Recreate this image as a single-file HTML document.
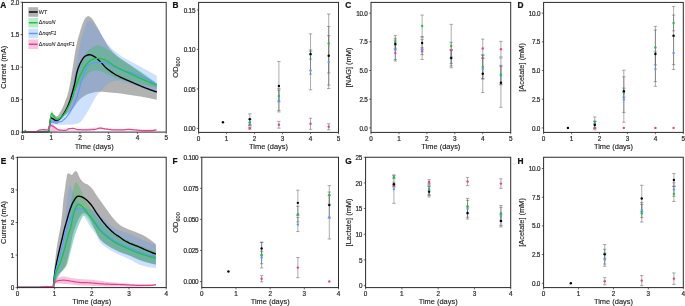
<!DOCTYPE html>
<html><head><meta charset="utf-8"><title>Figure</title>
<style>
html,body{margin:0;padding:0;background:#fff;}
body{width:685px;height:306px;overflow:hidden;}
svg{display:block;font-family:'Liberation Sans', Arial, Helvetica, sans-serif;will-change:transform;}
</style></head><body>
<svg width="685" height="306" viewBox="0 0 685 306">
<rect width="685" height="306" fill="#ffffff"/>
<g>
<path d="M49.5 131.5 L49.58 130.5 L49.67 129.5 L49.77 128.49 L49.87 127.49 L49.97 126.5 L50.08 125.5 L50.2 124.5 L50.32 123.5 L50.44 122.5 L50.56 121.49 L50.67 120.41 L50.77 119.29 L50.9 118.21 L51.05 117.21 L51.26 116.37 L51.61 115.71 L52.47 115.08 L53.54 114.66 L54.45 114.72 L55.34 115.39 L56.19 116.14 L56.95 116.39 L57.65 116.04 L58.31 115.33 L58.94 114.38 L59.53 113.33 L60.09 112.34 L60.62 111.48 L61.12 110.62 L61.6 109.74 L62.06 108.84 L62.51 107.93 L62.93 107.01 L63.34 106.09 L63.74 105.17 L64.12 104.24 L64.47 103.3 L64.82 102.35 L65.16 101.41 L65.5 100.46 L65.86 99.52 L66.22 98.58 L66.59 97.64 L66.94 96.7 L67.27 95.75 L67.56 94.79 L67.83 93.83 L68.08 92.86 L68.33 91.88 L68.56 90.91 L68.78 89.92 L68.99 88.94 L69.2 87.95 L69.4 86.97 L69.6 85.98 L69.8 85 L69.99 84.01 L70.18 83.03 L70.36 82.04 L70.54 81.05 L70.71 80.06 L70.88 79.07 L71.05 78.08 L71.21 77.09 L71.37 76.1 L71.53 75.11 L71.69 74.11 L71.85 73.12 L72 72.13 L72.15 71.13 L72.3 70.14 L72.45 69.14 L72.6 68.15 L72.75 67.15 L72.9 66.16 L73.05 65.16 L73.2 64.17 L73.35 63.17 L73.5 62.18 L73.65 61.18 L73.81 60.19 L73.96 59.2 L74.12 58.2 L74.28 57.21 L74.44 56.22 L74.6 55.23 L74.77 54.24 L74.94 53.25 L75.11 52.26 L75.29 51.27 L75.47 50.28 L75.65 49.29 L75.84 48.31 L76.03 47.32 L76.23 46.34 L76.44 45.35 L76.64 44.37 L76.86 43.38 L77.08 42.4 L77.31 41.42 L77.54 40.45 L77.78 39.47 L78.03 38.5 L78.29 37.53 L78.56 36.56 L78.84 35.6 L79.13 34.63 L79.42 33.67 L79.72 32.71 L80.02 31.75 L80.32 30.79 L80.62 29.83 L80.91 28.87 L81.2 27.9 L81.5 26.93 L81.8 25.97 L82.11 25.01 L82.45 24.07 L82.8 23.13 L83.18 22.21 L83.59 21.27 L84.02 20.33 L84.51 19.42 L85.04 18.58 L85.64 17.84 L86.39 17.07 L87.25 16.38 L88.12 16.01 L88.99 16.17 L89.9 16.71 L90.75 17.39 L91.48 18.05 L92.15 18.81 L92.77 19.62 L93.35 20.43 L93.9 21.27 L94.43 22.12 L94.94 22.99 L95.45 23.87 L95.95 24.74 L96.45 25.61 L96.95 26.48 L97.45 27.36 L97.93 28.24 L98.42 29.12 L98.9 30 L99.38 30.88 L99.86 31.77 L100.34 32.65 L100.82 33.53 L101.3 34.42 L101.77 35.31 L102.24 36.19 L102.72 37.08 L103.2 37.96 L103.68 38.84 L104.18 39.71 L104.67 40.59 L105.17 41.47 L105.67 42.35 L106.17 43.22 L106.7 44.08 L107.23 44.93 L107.79 45.75 L108.38 46.56 L108.98 47.36 L109.6 48.15 L110.24 48.94 L110.89 49.71 L111.55 50.48 L112.23 51.24 L112.92 51.98 L113.62 52.71 L114.33 53.42 L115.05 54.12 L115.78 54.8 L116.51 55.46 L117.26 56.1 L118.03 56.73 L118.81 57.35 L119.6 57.96 L120.41 58.55 L121.22 59.14 L122.05 59.72 L122.88 60.29 L123.71 60.86 L124.56 61.42 L125.4 61.98 L126.25 62.54 L127.1 63.09 L127.94 63.65 L128.79 64.21 L129.63 64.77 L130.46 65.34 L131.29 65.91 L132.11 66.49 L132.94 67.07 L133.76 67.65 L134.58 68.23 L135.4 68.8 L136.23 69.38 L137.05 69.95 L137.88 70.53 L138.7 71.1 L139.52 71.68 L140.35 72.25 L141.17 72.83 L142 73.4 L142.82 73.98 L143.65 74.55 L144.47 75.13 L145.29 75.71 L146.11 76.28 L146.94 76.86 L147.76 77.44 L148.58 78.01 L149.4 78.59 L150.23 79.17 L151.05 79.75 L151.87 80.33 L152.69 80.91 L153.51 81.48 L154.34 82.06 L155.16 82.64 L155.98 83.22 L156.8 83.8 L156.8 99.8 L155.81 99.57 L154.82 99.35 L153.83 99.13 L152.84 98.92 L151.85 98.7 L150.86 98.49 L149.87 98.29 L148.88 98.09 L147.89 97.89 L146.89 97.7 L145.9 97.51 L144.9 97.32 L143.91 97.14 L142.91 96.96 L141.92 96.79 L140.92 96.62 L139.92 96.45 L138.92 96.29 L137.92 96.14 L136.92 95.99 L135.92 95.84 L134.91 95.69 L133.91 95.55 L132.91 95.4 L131.91 95.25 L130.91 95.11 L129.91 94.96 L128.91 94.8 L127.9 94.64 L126.9 94.48 L125.9 94.31 L124.9 94.15 L123.9 93.99 L122.9 93.83 L121.9 93.68 L120.9 93.54 L119.9 93.4 L118.89 93.28 L117.89 93.17 L116.88 93.06 L115.88 92.97 L114.87 92.88 L113.86 92.79 L112.85 92.71 L111.84 92.63 L110.83 92.55 L109.82 92.47 L108.81 92.39 L107.8 92.31 L106.79 92.22 L105.78 92.11 L104.77 92.01 L103.76 91.9 L102.75 91.81 L101.74 91.75 L100.74 91.71 L99.73 91.71 L98.72 91.75 L97.7 91.83 L96.68 91.96 L95.66 92.11 L94.65 92.29 L93.64 92.5 L92.64 92.72 L91.66 92.96 L90.69 93.21 L89.74 93.46 L88.81 93.74 L87.88 94.1 L86.95 94.51 L86.03 94.98 L85.12 95.49 L84.23 96.05 L83.36 96.63 L82.51 97.23 L81.7 97.84 L80.92 98.46 L80.17 99.08 L79.47 99.74 L78.79 100.46 L78.14 101.22 L77.52 102.01 L76.91 102.83 L76.31 103.67 L75.72 104.52 L75.12 105.38 L74.53 106.23 L73.93 107.07 L73.31 107.89 L72.67 108.69 L72.01 109.46 L71.32 110.18 L70.59 110.87 L69.82 111.53 L69.02 112.17 L68.2 112.8 L67.36 113.41 L66.51 114.01 L65.66 114.61 L64.81 115.21 L63.97 115.82 L63.16 116.44 L62.36 117.07 L61.61 117.73 L60.89 118.41 L60.22 119.12 L59.6 119.87 L59.07 120.78 L58.63 121.93 L58.21 123.05 L57.71 123.82 L57.07 123.99 L56.12 123.9 L55.02 123.72 L53.98 123.5 L52.96 122.99 L51.99 122.31 L51.38 122 L51.04 122.09 L50.74 122.36 L50.46 122.82 L50.21 123.47 L50 124.32 L49.83 125.39 L49.69 126.68 L49.58 128.21 L49.52 129.98 L49.5 132Z" fill="#000000" fill-opacity="0.3" stroke="none"/>
<path d="M49.4 131.5 L49.41 130.09 L49.44 128.77 L49.49 127.53 L49.56 126.37 L49.64 125.29 L49.75 124.31 L49.88 123.41 L50.03 122.6 L50.21 121.89 L50.4 121.26 L50.71 120.71 L51.51 120.18 L52.62 119.74 L53.75 119.51 L54.74 119.5 L55.78 119.5 L56.84 119.5 L57.87 119.5 L58.83 119.5 L59.7 119.42 L60.53 118.98 L61.33 118.25 L62.06 117.38 L62.73 116.5 L63.32 115.7 L63.87 114.89 L64.39 114.04 L64.88 113.15 L65.35 112.24 L65.79 111.3 L66.2 110.35 L66.58 109.4 L66.94 108.46 L67.27 107.52 L67.58 106.57 L67.87 105.61 L68.15 104.65 L68.41 103.67 L68.66 102.69 L68.9 101.71 L69.14 100.72 L69.37 99.73 L69.6 98.74 L69.82 97.76 L70.05 96.78 L70.28 95.8 L70.5 94.81 L70.71 93.83 L70.92 92.84 L71.13 91.86 L71.33 90.87 L71.53 89.88 L71.73 88.89 L71.92 87.9 L72.12 86.91 L72.31 85.92 L72.51 84.94 L72.7 83.95 L72.89 82.96 L73.07 81.97 L73.26 80.97 L73.44 79.98 L73.62 78.99 L73.8 78 L73.98 77.01 L74.15 76.02 L74.33 75.02 L74.5 74.03 L74.68 73.04 L74.85 72.04 L75.02 71.05 L75.19 70.06 L75.36 69.06 L75.53 68.07 L75.71 67.08 L75.88 66.08 L76.05 65.09 L76.22 64.09 L76.39 63.1 L76.57 62.11 L76.74 61.12 L76.92 60.12 L77.09 59.13 L77.27 58.14 L77.45 57.15 L77.63 56.16 L77.81 55.16 L78 54.17 L78.18 53.18 L78.37 52.19 L78.56 51.2 L78.76 50.22 L78.95 49.23 L79.15 48.24 L79.35 47.25 L79.55 46.26 L79.76 45.28 L79.97 44.29 L80.18 43.3 L80.4 42.32 L80.62 41.34 L80.86 40.36 L81.1 39.38 L81.37 38.41 L81.64 37.44 L81.93 36.48 L82.23 35.51 L82.54 34.55 L82.85 33.59 L83.15 32.63 L83.45 31.66 L83.74 30.69 L84.03 29.71 L84.32 28.74 L84.63 27.78 L84.96 26.83 L85.32 25.89 L85.71 24.98 L86.14 24.04 L86.62 23.08 L87.16 22.19 L87.79 21.47 L88.59 20.92 L89.57 20.6 L90.51 20.87 L91.4 21.43 L92.14 22.09 L92.8 22.88 L93.45 23.64 L94.1 24.42 L94.73 25.21 L95.35 26 L95.95 26.81 L96.55 27.62 L97.14 28.43 L97.71 29.26 L98.28 30.09 L98.85 30.93 L99.41 31.77 L99.97 32.61 L100.53 33.44 L101.09 34.28 L101.64 35.13 L102.19 35.97 L102.74 36.82 L103.29 37.66 L103.86 38.49 L104.43 39.33 L104.99 40.17 L105.56 41.01 L106.13 41.85 L106.7 42.69 L107.29 43.51 L107.89 44.32 L108.52 45.1 L109.16 45.85 L109.83 46.59 L110.52 47.31 L111.23 48.02 L111.95 48.72 L112.7 49.41 L113.45 50.09 L114.22 50.76 L115 51.42 L115.79 52.06 L116.59 52.69 L117.39 53.31 L118.2 53.92 L119.01 54.51 L119.82 55.09 L120.64 55.65 L121.47 56.2 L122.31 56.74 L123.16 57.27 L124.02 57.79 L124.88 58.3 L125.76 58.8 L126.63 59.3 L127.52 59.79 L128.41 60.27 L129.3 60.75 L130.19 61.22 L131.09 61.7 L131.99 62.17 L132.89 62.64 L133.79 63.11 L134.69 63.58 L135.59 64.05 L136.48 64.52 L137.38 65 L138.26 65.48 L139.15 65.97 L140.03 66.46 L140.91 66.95 L141.79 67.44 L142.67 67.93 L143.55 68.42 L144.43 68.91 L145.31 69.39 L146.2 69.88 L147.08 70.37 L147.96 70.86 L148.84 71.34 L149.73 71.83 L150.61 72.31 L151.49 72.8 L152.38 73.28 L153.26 73.77 L154.15 74.25 L155.03 74.73 L155.92 75.22 L156.8 75.7 L156.8 93.9 L155.87 93.49 L154.95 93.09 L154.02 92.69 L153.09 92.29 L152.15 91.9 L151.22 91.51 L150.28 91.13 L149.35 90.75 L148.41 90.37 L147.47 90 L146.53 89.63 L145.59 89.26 L144.64 88.9 L143.7 88.55 L142.75 88.2 L141.81 87.85 L140.86 87.51 L139.91 87.17 L138.96 86.83 L138 86.5 L137.05 86.17 L136.09 85.85 L135.13 85.52 L134.17 85.21 L133.21 84.89 L132.25 84.58 L131.28 84.28 L130.32 83.98 L129.35 83.68 L128.39 83.39 L127.42 83.1 L126.45 82.81 L125.48 82.54 L124.51 82.25 L123.53 81.94 L122.56 81.6 L121.58 81.28 L120.6 80.99 L119.62 80.76 L118.63 80.63 L117.65 80.61 L116.65 80.69 L115.64 80.86 L114.63 81.09 L113.64 81.36 L112.68 81.65 L111.74 81.95 L110.82 82.33 L109.9 82.79 L109.01 83.31 L108.14 83.87 L107.3 84.46 L106.5 85.07 L105.74 85.69 L105.03 86.39 L104.36 87.14 L103.7 87.92 L103.06 88.72 L102.4 89.51 L101.73 90.27 L101.02 90.99 L100.28 91.7 L99.54 92.4 L98.81 93.11 L98.1 93.83 L97.44 94.57 L96.84 95.36 L96.27 96.17 L95.73 97.01 L95.22 97.87 L94.72 98.75 L94.24 99.64 L93.77 100.55 L93.3 101.46 L92.84 102.37 L92.37 103.28 L91.89 104.18 L91.4 105.07 L90.9 105.94 L90.39 106.82 L89.89 107.69 L89.38 108.57 L88.88 109.44 L88.37 110.32 L87.85 111.19 L87.34 112.06 L86.81 112.92 L86.29 113.78 L85.75 114.64 L85.21 115.49 L84.67 116.35 L84.13 117.24 L83.6 118.12 L83.04 118.98 L82.45 119.81 L81.82 120.56 L81.14 121.25 L80.37 121.93 L79.53 122.58 L78.65 123.14 L77.75 123.53 L76.83 123.76 L75.87 123.95 L74.87 124.12 L73.86 124.27 L72.83 124.39 L71.8 124.49 L70.77 124.56 L69.76 124.61 L68.75 124.65 L67.74 124.69 L66.73 124.72 L65.72 124.75 L64.71 124.77 L63.7 124.79 L62.69 124.8 L61.68 124.8 L60.67 124.78 L59.66 124.75 L58.64 124.71 L57.63 124.66 L56.62 124.63 L55.62 124.6 L54.59 124.61 L53.46 124.7 L52.44 124.88 L51.78 125.1 L51.25 125.52 L50.75 126.16 L50.31 126.99 L49.93 128.01 L49.65 129.2 L49.46 130.53 L49.4 132Z" fill="#5b9bff" fill-opacity="0.3" stroke="none"/>
<path d="M49.6 131.5 L49.64 130.49 L49.68 129.49 L49.74 128.48 L49.8 127.48 L49.86 126.47 L49.93 125.47 L50.01 124.47 L50.09 123.47 L50.18 122.46 L50.27 121.46 L50.36 120.46 L50.46 119.46 L50.55 118.46 L50.65 117.43 L50.75 116.21 L50.85 114.9 L50.97 113.59 L51.1 112.41 L51.25 111.46 L51.43 110.86 L51.65 110.72 L52.03 111.29 L52.56 112.33 L53.16 113.46 L53.75 114.36 L54.37 115.29 L55.03 116.25 L55.74 117.11 L56.48 117.74 L57.25 118 L58.11 117.87 L59.07 117.5 L60.04 116.98 L60.95 116.4 L61.72 115.82 L62.41 115.16 L63.05 114.4 L63.65 113.57 L64.21 112.68 L64.75 111.78 L65.27 110.89 L65.77 110.03 L66.26 109.16 L66.74 108.28 L67.2 107.38 L67.65 106.48 L68.09 105.56 L68.51 104.64 L68.92 103.71 L69.31 102.78 L69.68 101.85 L70.04 100.91 L70.38 99.97 L70.71 99.03 L71.02 98.08 L71.33 97.12 L71.62 96.16 L71.9 95.2 L72.18 94.23 L72.45 93.26 L72.71 92.28 L72.97 91.31 L73.22 90.33 L73.47 89.35 L73.71 88.37 L73.96 87.39 L74.2 86.42 L74.44 85.44 L74.66 84.46 L74.88 83.48 L75.08 82.49 L75.28 81.5 L75.47 80.51 L75.67 79.51 L75.86 78.52 L76.05 77.53 L76.24 76.54 L76.44 75.55 L76.65 74.57 L76.87 73.59 L77.1 72.62 L77.34 71.65 L77.6 70.68 L77.88 69.73 L78.19 68.78 L78.53 67.83 L78.9 66.89 L79.28 65.96 L79.69 65.03 L80.1 64.11 L80.52 63.2 L80.95 62.29 L81.38 61.38 L81.83 60.48 L82.3 59.59 L82.77 58.7 L83.27 57.81 L83.77 56.94 L84.29 56.08 L84.82 55.23 L85.37 54.39 L85.92 53.54 L86.49 52.68 L87.09 51.84 L87.7 51.02 L88.35 50.25 L89.02 49.53 L89.74 48.89 L90.51 48.28 L91.35 47.7 L92.24 47.17 L93.15 46.7 L94.07 46.31 L95.01 45.96 L95.99 45.63 L96.98 45.39 L97.96 45.3 L98.94 45.39 L99.92 45.6 L100.9 45.91 L101.87 46.27 L102.82 46.65 L103.73 47.02 L104.61 47.46 L105.48 47.96 L106.34 48.51 L107.18 49.09 L108.01 49.67 L108.84 50.26 L109.67 50.83 L110.48 51.41 L111.29 52.02 L112.08 52.63 L112.88 53.25 L113.67 53.87 L114.48 54.48 L115.29 55.07 L116.11 55.64 L116.94 56.21 L117.77 56.78 L118.61 57.34 L119.45 57.89 L120.29 58.45 L121.13 59 L121.97 59.55 L122.81 60.1 L123.66 60.64 L124.5 61.2 L125.34 61.74 L126.18 62.29 L127.03 62.84 L127.87 63.38 L128.72 63.92 L129.57 64.47 L130.41 65.01 L131.26 65.55 L132.11 66.1 L132.95 66.64 L133.8 67.18 L134.64 67.73 L135.49 68.27 L136.34 68.81 L137.19 69.35 L138.04 69.89 L138.89 70.43 L139.73 70.98 L140.57 71.53 L141.4 72.09 L142.23 72.66 L143.06 73.23 L143.88 73.8 L144.71 74.38 L145.53 74.96 L146.35 75.54 L147.16 76.12 L147.98 76.71 L148.79 77.3 L149.61 77.9 L150.41 78.49 L151.22 79.1 L152.03 79.7 L152.83 80.31 L153.63 80.92 L154.42 81.53 L155.22 82.15 L156.01 82.77 L156.8 83.4 L156.8 87.4 L155.81 87.21 L154.82 87.03 L153.83 86.84 L152.84 86.65 L151.85 86.45 L150.86 86.26 L149.87 86.06 L148.88 85.86 L147.89 85.66 L146.9 85.46 L145.91 85.26 L144.93 85.05 L143.94 84.84 L142.95 84.63 L141.97 84.42 L140.98 84.21 L140 84 L139.01 83.78 L138.03 83.57 L137.04 83.35 L136.06 83.12 L135.07 82.9 L134.09 82.67 L133.11 82.44 L132.13 82.21 L131.15 81.98 L130.16 81.75 L129.18 81.51 L128.2 81.28 L127.22 81.04 L126.24 80.8 L125.26 80.56 L124.28 80.33 L123.3 80.1 L122.31 79.87 L121.32 79.64 L120.34 79.41 L119.35 79.18 L118.37 78.93 L117.4 78.67 L116.44 78.39 L115.48 78.09 L114.54 77.76 L113.61 77.39 L112.68 76.98 L111.77 76.55 L110.86 76.11 L109.95 75.66 L109.04 75.22 L108.14 74.76 L107.24 74.27 L106.35 73.77 L105.46 73.29 L104.56 72.84 L103.64 72.46 L102.7 72.13 L101.74 71.81 L100.76 71.49 L99.77 71.2 L98.78 70.93 L97.78 70.72 L96.79 70.57 L95.81 70.5 L94.82 70.54 L93.8 70.71 L92.78 70.97 L91.77 71.31 L90.82 71.71 L89.94 72.12 L89.16 72.57 L88.45 73.18 L87.78 73.92 L87.15 74.75 L86.54 75.62 L85.93 76.51 L85.3 77.35 L84.66 78.13 L84.01 78.9 L83.35 79.67 L82.69 80.44 L82.03 81.22 L81.38 81.99 L80.74 82.77 L80.11 83.56 L79.49 84.36 L78.9 85.17 L78.33 85.99 L77.79 86.83 L77.26 87.68 L76.75 88.54 L76.25 89.42 L75.76 90.31 L75.28 91.2 L74.82 92.11 L74.37 93.02 L73.93 93.93 L73.51 94.85 L73.1 95.77 L72.71 96.69 L72.34 97.62 L71.99 98.57 L71.66 99.52 L71.33 100.48 L71.01 101.44 L70.69 102.4 L70.37 103.36 L70.04 104.31 L69.69 105.26 L69.33 106.2 L68.94 107.13 L68.55 108.06 L68.14 108.99 L67.73 109.92 L67.3 110.85 L66.85 111.76 L66.39 112.66 L65.9 113.54 L65.39 114.4 L64.85 115.22 L64.27 116.05 L63.64 116.86 L62.97 117.65 L62.27 118.39 L61.53 119.07 L60.76 119.68 L59.91 120.32 L59 120.92 L58.08 121.36 L57.18 121.5 L56.29 121.23 L55.39 120.66 L54.54 119.97 L53.77 119.28 L53.01 118.33 L52.3 117.31 L51.77 116.61 L51.48 116.51 L51.25 116.59 L51.03 116.76 L50.82 117.02 L50.63 117.4 L50.46 117.9 L50.3 118.54 L50.15 119.31 L50.03 120.24 L49.92 121.34 L49.82 122.61 L49.74 124.07 L49.68 125.73 L49.64 127.6 L49.61 129.68 L49.6 132Z" fill="#1fbf4a" fill-opacity="0.3" stroke="none"/>
<path d="M22.4 131.9 L23.43 131.89 L24.45 131.88 L25.47 131.85 L26.49 131.82 L27.5 131.78 L28.51 131.72 L29.52 131.66 L30.52 131.6 L31.52 131.52 L32.52 131.44 L33.52 131.35 L34.51 131.26 L35.5 131.16 L36.49 131.06 L37.48 130.93 L38.45 130.68 L39.42 130.33 L40.38 129.96 L41.34 129.61 L42.31 129.34 L43.29 129.2 L44.36 129.2 L45.56 129.2 L46.72 129.2 L47.65 129.2 L48.18 129.17 L48.43 128.5 L48.61 127.3 L48.82 126.04 L49.23 125.1 L49.99 124.29 L50.86 124.26 L51.88 124.52 L52.85 124.86 L53.73 125.31 L54.58 125.9 L55.38 126.55 L56.13 127.23 L56.78 128.12 L57.43 128.96 L58.18 129.34 L59.07 129.48 L60.05 129.6 L61.09 129.69 L62.16 129.76 L63.23 129.79 L64.25 129.8 L65.26 129.8 L66.26 129.79 L67.27 129.77 L68.28 129.75 L69.28 129.72 L70.29 129.7 L71.3 129.66 L72.31 129.63 L73.32 129.59 L74.32 129.55 L75.33 129.51 L76.34 129.46 L77.35 129.42 L78.35 129.37 L79.36 129.33 L80.37 129.28 L81.37 129.22 L82.38 129.15 L83.38 129.07 L84.39 128.97 L85.39 128.87 L86.4 128.76 L87.4 128.64 L88.4 128.53 L89.41 128.41 L90.41 128.29 L91.41 128.18 L92.42 128.07 L93.42 127.97 L94.43 127.87 L95.43 127.79 L96.43 127.72 L97.44 127.66 L98.44 127.62 L99.44 127.6 L100.45 127.6 L101.45 127.63 L102.45 127.67 L103.46 127.74 L104.46 127.83 L105.46 127.93 L106.47 128.04 L107.47 128.17 L108.47 128.3 L109.48 128.43 L110.48 128.57 L111.48 128.7 L112.49 128.83 L113.49 128.95 L114.49 129.07 L115.5 129.17 L116.5 129.25 L117.51 129.32 L118.51 129.37 L119.52 129.4 L120.52 129.4 L121.53 129.4 L122.53 129.4 L123.54 129.4 L124.54 129.4 L125.55 129.4 L126.56 129.4 L127.56 129.4 L128.57 129.4 L129.58 129.4 L130.58 129.4 L131.59 129.4 L132.6 129.4 L133.6 129.4 L134.61 129.4 L135.62 129.4 L136.62 129.4 L137.63 129.4 L138.64 129.4 L139.65 129.4 L140.65 129.4 L141.66 129.4 L142.67 129.4 L143.68 129.4 L144.69 129.4 L145.7 129.4 L146.7 129.4 L147.71 129.4 L148.72 129.4 L149.73 129.4 L150.74 129.4 L151.75 129.4 L152.76 129.4 L153.77 129.4 L154.78 129.4 L155.79 129.4 L156.8 129.4 L156.8 130.5 L155.79 130.5 L154.77 130.5 L153.76 130.5 L152.74 130.5 L151.73 130.5 L150.71 130.5 L149.7 130.5 L148.68 130.5 L147.67 130.5 L146.65 130.5 L145.64 130.5 L144.63 130.5 L143.61 130.5 L142.6 130.5 L141.58 130.5 L140.57 130.5 L139.56 130.5 L138.54 130.5 L137.53 130.5 L136.52 130.5 L135.5 130.5 L134.49 130.5 L133.48 130.5 L132.46 130.5 L131.45 130.5 L130.44 130.5 L129.42 130.5 L128.41 130.5 L127.4 130.5 L126.38 130.5 L125.37 130.5 L124.36 130.5 L123.34 130.5 L122.33 130.5 L121.32 130.5 L120.31 130.5 L119.29 130.5 L118.28 130.47 L117.27 130.44 L116.26 130.39 L115.24 130.33 L114.23 130.26 L113.22 130.18 L112.21 130.1 L111.2 130.01 L110.18 129.92 L109.17 129.83 L108.16 129.74 L107.15 129.65 L106.14 129.57 L105.12 129.5 L104.11 129.43 L103.1 129.38 L102.09 129.34 L101.08 129.31 L100.07 129.3 L99.05 129.31 L98.04 129.33 L97.03 129.37 L96.02 129.42 L95.01 129.49 L94 129.56 L92.99 129.64 L91.98 129.73 L90.96 129.82 L89.95 129.91 L88.94 130.01 L87.93 130.1 L86.92 130.19 L85.91 130.28 L84.9 130.36 L83.88 130.43 L82.87 130.49 L81.86 130.54 L80.85 130.58 L79.83 130.6 L78.82 130.62 L77.8 130.63 L76.78 130.64 L75.76 130.65 L74.73 130.66 L73.71 130.66 L72.68 130.67 L71.66 130.67 L70.63 130.67 L69.61 130.68 L68.58 130.68 L67.56 130.69 L66.55 130.69 L65.53 130.7 L64.52 130.71 L63.51 130.72 L62.51 130.73 L61.52 130.75 L60.53 130.77 L59.54 130.79 L58.57 130.88 L57.62 131.31 L56.65 131.54 L55.65 131.65 L54.63 131.73 L53.61 131.78 L52.59 131.8 L51.57 131.77 L50.53 131.7 L49.53 131.58 L48.61 131.27 L47.69 131 L46.71 131 L45.68 131 L44.64 131 L43.61 131 L42.6 131.05 L41.6 131.2 L40.6 131.41 L39.6 131.63 L38.6 131.83 L37.6 131.97 L36.59 132.01 L35.59 132.02 L34.58 132.03 L33.57 132.04 L32.56 132.05 L31.55 132.06 L30.54 132.07 L29.52 132.08 L28.51 132.08 L27.49 132.09 L26.48 132.09 L25.46 132.1 L24.44 132.1 L23.42 132.1 L22.4 132.1Z" fill="#e8408f" fill-opacity="0.3" stroke="none"/>
<path d="M22.4 132 L24.06 132 L25.66 132 L27.22 132 L28.73 132 L30.2 132 L31.61 131.99 L32.97 131.99 L34.28 131.99 L35.54 131.98 L36.75 131.98 L37.9 131.97 L39 131.97 L40.05 131.96 L41.05 131.95 L41.98 131.95 L42.87 131.94 L43.7 131.93 L44.47 131.92 L45.18 131.91 L45.84 131.89 L46.44 131.88 L46.98 131.87 L47.46 131.85 L47.88 131.83 L48.24 131.82 L48.54 131.79 L48.78 131.39 L48.98 130.52 L49.15 129.35 L49.31 128.04 L49.47 126.78 L49.65 125.71 L49.82 124.56 L49.96 123.28 L50.1 121.96 L50.25 120.7 L50.42 119.57 L50.63 118.67 L50.9 118.08 L51.24 117.9 L52.08 118.29 L53.1 118.85 L53.98 119.46 L54.84 120.09 L55.72 120.47 L56.66 120.43 L57.66 120.11 L58.62 119.65 L59.47 119.16 L60.2 118.58 L60.88 117.87 L61.51 117.06 L62.11 116.18 L62.68 115.28 L63.24 114.4 L63.79 113.56 L64.33 112.71 L64.85 111.85 L65.36 110.97 L65.85 110.08 L66.33 109.19 L66.79 108.29 L67.23 107.38 L67.65 106.47 L68.06 105.55 L68.46 104.62 L68.84 103.68 L69.2 102.74 L69.55 101.79 L69.89 100.83 L70.2 99.88 L70.5 98.92 L70.78 97.95 L71.05 96.97 L71.32 96 L71.59 95.03 L71.87 94.06 L72.15 93.09 L72.43 92.12 L72.71 91.14 L72.98 90.17 L73.26 89.2 L73.52 88.23 L73.78 87.25 L74.03 86.28 L74.27 85.3 L74.5 84.31 L74.71 83.32 L74.92 82.33 L75.11 81.34 L75.31 80.34 L75.5 79.35 L75.69 78.35 L75.88 77.36 L76.08 76.36 L76.28 75.37 L76.49 74.39 L76.71 73.4 L76.94 72.43 L77.19 71.46 L77.46 70.49 L77.74 69.53 L78.05 68.57 L78.39 67.62 L78.75 66.66 L79.13 65.72 L79.54 64.79 L79.96 63.87 L80.41 62.97 L80.87 62.08 L81.35 61.15 L81.87 60.2 L82.41 59.26 L82.99 58.36 L83.61 57.55 L84.27 56.84 L84.97 56.28 L85.77 55.83 L86.7 55.39 L87.71 55.03 L88.74 54.78 L89.72 54.7 L90.68 54.86 L91.64 55.2 L92.59 55.66 L93.51 56.17 L94.37 56.65 L95.2 57.18 L96.01 57.77 L96.79 58.41 L97.56 59.09 L98.31 59.79 L99.06 60.5 L99.79 61.21 L100.52 61.91 L101.22 62.63 L101.91 63.37 L102.58 64.13 L103.24 64.9 L103.91 65.66 L104.59 66.41 L105.29 67.14 L106.01 67.83 L106.77 68.49 L107.56 69.12 L108.37 69.72 L109.19 70.32 L110.01 70.91 L110.83 71.49 L111.65 72.08 L112.48 72.66 L113.32 73.22 L114.17 73.77 L115.03 74.3 L115.9 74.8 L116.79 75.28 L117.68 75.74 L118.59 76.2 L119.49 76.65 L120.4 77.1 L121.3 77.54 L122.21 77.98 L123.13 78.41 L124.04 78.83 L124.96 79.24 L125.89 79.63 L126.82 80.02 L127.76 80.41 L128.69 80.79 L129.62 81.19 L130.54 81.6 L131.46 82.02 L132.38 82.44 L133.3 82.84 L134.23 83.25 L135.15 83.65 L136.08 84.05 L137.01 84.44 L137.94 84.84 L138.87 85.23 L139.8 85.62 L140.73 86 L141.66 86.39 L142.6 86.77 L143.53 87.15 L144.47 87.53 L145.41 87.9 L146.35 88.27 L147.29 88.63 L148.23 88.99 L149.18 89.34 L150.12 89.69 L151.07 90.03 L152.02 90.37 L152.98 90.7 L153.93 91.03 L154.88 91.36 L155.84 91.68 L156.8 92" fill="none" stroke="#000000" stroke-width="1.35" stroke-linejoin="round" stroke-linecap="butt"/>
<path d="M22.4 132 L24.07 132 L25.71 132 L27.29 132 L28.84 132 L30.34 132 L31.79 131.99 L33.2 131.99 L34.55 131.99 L35.85 131.98 L37.11 131.98 L38.3 131.97 L39.45 131.97 L40.53 131.96 L41.56 131.95 L42.53 131.95 L43.44 131.94 L44.29 131.93 L45.08 131.92 L45.8 131.91 L46.45 131.9 L47.04 131.88 L47.56 131.87 L48.01 131.86 L48.39 131.84 L48.7 131.82 L48.94 131.81 L49.1 131.67 L49.22 131.06 L49.3 130.08 L49.37 128.84 L49.44 127.47 L49.52 126.11 L49.62 124.87 L49.76 123.88 L49.98 123.26 L50.63 122.74 L51.65 122.28 L52.82 121.94 L53.92 121.8 L54.91 121.8 L55.94 121.8 L56.98 121.8 L58.01 121.8 L59.02 121.8 L59.98 121.8 L60.9 121.63 L61.81 121.19 L62.68 120.56 L63.52 119.87 L64.3 119.2 L65.04 118.55 L65.74 117.83 L66.41 117.06 L67.06 116.26 L67.68 115.45 L68.28 114.63 L68.85 113.81 L69.41 112.98 L69.95 112.12 L70.48 111.25 L70.99 110.37 L71.48 109.48 L71.95 108.59 L72.4 107.69 L72.84 106.79 L73.25 105.87 L73.65 104.94 L74.04 104.01 L74.43 103.07 L74.83 102.14 L75.22 101.21 L75.63 100.28 L76.02 99.35 L76.41 98.42 L76.78 97.48 L77.12 96.53 L77.43 95.58 L77.72 94.62 L78 93.65 L78.26 92.67 L78.51 91.69 L78.76 90.71 L79.01 89.73 L79.26 88.75 L79.51 87.77 L79.77 86.8 L80.05 85.82 L80.33 84.85 L80.61 83.88 L80.89 82.91 L81.18 81.93 L81.46 80.96 L81.75 79.99 L82.05 79.03 L82.36 78.06 L82.68 77.11 L83.02 76.16 L83.36 75.22 L83.72 74.28 L84.09 73.33 L84.47 72.36 L84.86 71.38 L85.27 70.41 L85.7 69.45 L86.16 68.53 L86.65 67.64 L87.17 66.81 L87.73 66.04 L88.34 65.34 L89.07 64.64 L89.91 63.98 L90.81 63.42 L91.73 63.05 L92.66 62.83 L93.65 62.65 L94.67 62.5 L95.7 62.42 L96.71 62.4 L97.73 62.4 L98.74 62.41 L99.76 62.43 L100.77 62.44 L101.78 62.46 L102.78 62.49 L103.77 62.54 L104.75 62.71 L105.73 62.98 L106.7 63.32 L107.66 63.69 L108.61 64.07 L109.55 64.43 L110.47 64.83 L111.37 65.27 L112.27 65.74 L113.17 66.21 L114.08 66.67 L114.99 67.1 L115.91 67.5 L116.84 67.9 L117.78 68.28 L118.71 68.66 L119.66 69.02 L120.6 69.37 L121.55 69.71 L122.51 70.04 L123.47 70.36 L124.43 70.67 L125.39 70.96 L126.37 71.23 L127.34 71.5 L128.31 71.77 L129.28 72.06 L130.24 72.38 L131.19 72.72 L132.13 73.07 L133.08 73.43 L134.02 73.79 L134.96 74.15 L135.91 74.5 L136.87 74.83 L137.83 75.15 L138.78 75.46 L139.73 75.8 L140.67 76.17 L141.6 76.56 L142.53 76.97 L143.44 77.39 L144.36 77.82 L145.27 78.25 L146.18 78.69 L147.09 79.12 L148.01 79.56 L148.91 80 L149.82 80.45 L150.72 80.91 L151.61 81.39 L152.49 81.87 L153.36 82.37 L154.23 82.89 L155.09 83.41 L155.95 83.95 L156.8 84.5" fill="none" stroke="#5b9bff" stroke-width="1.2" stroke-linejoin="round" stroke-linecap="butt"/>
<path d="M22.4 132 L23.54 131.94 L24.37 131.76 L24.89 130.72 L25.41 130.46 L25.99 131.56 L26.69 131.81 L27.48 131.83 L28.35 131.84 L29.28 131.85 L30.27 131.87 L31.3 131.87 L32.37 131.88 L33.46 131.89 L34.57 131.89 L35.68 131.9 L36.78 131.9 L37.88 131.9 L38.94 131.9 L39.97 131.9 L41.06 131.9 L42.25 131.88 L43.5 131.86 L44.75 131.83 L45.92 131.8 L46.96 131.75 L47.81 131.7 L48.4 131.64 L48.72 131.52 L48.93 131.03 L49.11 130.19 L49.25 129.11 L49.37 127.86 L49.5 126.56 L49.62 125.29 L49.77 124.16 L49.94 123.1 L50.09 121.91 L50.24 120.63 L50.38 119.31 L50.54 118 L50.7 116.76 L50.87 115.63 L51.06 114.67 L51.28 113.93 L51.53 113.45 L51.82 113.3 L52.23 113.74 L52.8 114.69 L53.44 115.8 L54.09 116.71 L54.77 117.57 L55.49 118.46 L56.27 119.19 L57.07 119.58 L57.94 119.46 L58.89 118.96 L59.76 118.39 L60.57 117.81 L61.34 117.15 L62.08 116.43 L62.79 115.68 L63.45 114.91 L64.07 114.13 L64.65 113.32 L65.21 112.48 L65.74 111.62 L66.25 110.74 L66.75 109.84 L67.24 108.95 L67.72 108.06 L68.2 107.17 L68.66 106.27 L69.12 105.37 L69.56 104.46 L69.99 103.54 L70.41 102.62 L70.81 101.7 L71.21 100.77 L71.59 99.84 L71.96 98.89 L72.32 97.95 L72.66 97 L72.99 96.04 L73.29 95.08 L73.58 94.11 L73.86 93.14 L74.12 92.16 L74.39 91.19 L74.65 90.21 L74.92 89.23 L75.19 88.26 L75.48 87.29 L75.79 86.33 L76.11 85.38 L76.45 84.43 L76.8 83.48 L77.16 82.54 L77.53 81.6 L77.91 80.66 L78.3 79.72 L78.7 78.79 L79.11 77.86 L79.52 76.94 L79.94 76.02 L80.36 75.11 L80.79 74.2 L81.23 73.28 L81.67 72.37 L82.13 71.46 L82.59 70.55 L83.07 69.66 L83.56 68.77 L84.08 67.9 L84.6 67.05 L85.16 66.22 L85.73 65.38 L86.33 64.54 L86.95 63.7 L87.6 62.9 L88.29 62.15 L89.01 61.47 L89.77 60.88 L90.6 60.32 L91.49 59.79 L92.43 59.33 L93.39 58.98 L94.35 58.75 L95.33 58.59 L96.35 58.45 L97.37 58.35 L98.38 58.3 L99.37 58.34 L100.37 58.5 L101.37 58.74 L102.35 59.04 L103.32 59.37 L104.26 59.69 L105.18 60.08 L106.08 60.53 L106.97 61.04 L107.85 61.56 L108.72 62.07 L109.58 62.61 L110.42 63.17 L111.24 63.75 L112.07 64.34 L112.89 64.93 L113.73 65.5 L114.58 66.05 L115.45 66.56 L116.33 67.04 L117.23 67.5 L118.13 67.96 L119.04 68.41 L119.94 68.87 L120.84 69.33 L121.73 69.8 L122.64 70.25 L123.55 70.69 L124.46 71.12 L125.39 71.52 L126.32 71.91 L127.25 72.29 L128.19 72.68 L129.12 73.07 L130.04 73.49 L130.95 73.92 L131.86 74.36 L132.77 74.8 L133.69 75.23 L134.6 75.66 L135.51 76.09 L136.43 76.52 L137.34 76.95 L138.26 77.38 L139.17 77.81 L140.09 78.23 L141.01 78.65 L141.93 79.07 L142.85 79.48 L143.77 79.89 L144.7 80.3 L145.62 80.7 L146.55 81.11 L147.48 81.51 L148.4 81.91 L149.33 82.31 L150.26 82.7 L151.19 83.09 L152.12 83.48 L153.06 83.87 L153.99 84.26 L154.93 84.64 L155.86 85.02 L156.8 85.4" fill="none" stroke="#1fbf4a" stroke-width="1.3" stroke-linejoin="round" stroke-linecap="butt"/>
<path d="M22.4 132 L23.24 132 L24.07 131.99 L24.91 131.99 L25.74 131.98 L26.58 131.97 L27.41 131.95 L28.25 131.94 L29.08 131.92 L29.92 131.9 L30.75 131.88 L31.6 131.84 L32.45 131.8 L33.3 131.74 L34.14 131.67 L34.97 131.58 L35.79 131.48 L36.6 131.37 L37.38 131.19 L38.12 130.78 L38.85 130.3 L39.61 130 L40.41 129.86 L41.24 129.75 L42.08 129.66 L42.93 129.61 L43.76 129.61 L44.6 129.7 L45.43 129.85 L46.26 129.97 L47.09 129.98 L47.95 129.7 L48.32 129.23 L48.52 128.41 L48.68 127.45 L48.91 126.59 L49.37 125.89 L50.08 125.34 L50.81 125.36 L51.63 125.63 L52.44 125.98 L53.18 126.35 L53.87 126.81 L54.54 127.32 L55.21 127.84 L55.91 128.3 L56.63 128.76 L57.36 129.24 L58.1 129.66 L58.86 129.94 L59.65 130.05 L60.46 130.13 L61.29 130.19 L62.14 130.24 L62.99 130.28 L63.84 130.3 L64.68 130.3 L65.52 130.25 L66.32 130.13 L67.06 129.74 L67.78 129.22 L68.52 128.8 L69.3 128.65 L70.12 128.56 L70.96 128.49 L71.81 128.44 L72.65 128.41 L73.48 128.4 L74.3 128.51 L75.1 128.76 L75.9 129.06 L76.7 129.35 L77.51 129.55 L78.33 129.63 L79.16 129.68 L79.99 129.72 L80.82 129.76 L81.66 129.8 L82.49 129.83 L83.33 129.85 L84.17 129.87 L85.01 129.89 L85.85 129.9 L86.69 129.9 L87.52 129.9 L88.36 129.88 L89.2 129.86 L90.04 129.84 L90.88 129.8 L91.71 129.76 L92.54 129.71 L93.37 129.66 L94.2 129.6 L95.02 129.48 L95.83 129.27 L96.64 129 L97.44 128.71 L98.25 128.44 L99.06 128.23 L99.87 128.11 L100.69 128.11 L101.51 128.2 L102.33 128.33 L103.15 128.5 L103.98 128.69 L104.8 128.87 L105.63 129.03 L106.45 129.15 L107.28 129.26 L108.11 129.38 L108.94 129.5 L109.77 129.61 L110.6 129.71 L111.43 129.8 L112.27 129.86 L113.1 129.89 L113.93 129.9 L114.77 129.9 L115.6 129.9 L116.44 129.9 L117.27 129.9 L118.11 129.9 L118.95 129.9 L119.78 129.9 L120.62 129.9 L121.45 129.9 L122.29 129.9 L123.12 129.88 L123.95 129.81 L124.78 129.71 L125.61 129.58 L126.44 129.46 L127.27 129.36 L128.1 129.31 L128.94 129.31 L129.77 129.35 L130.6 129.43 L131.43 129.53 L132.26 129.64 L133.09 129.75 L133.92 129.85 L134.75 129.93 L135.58 130.01 L136.42 130.1 L137.25 130.19 L138.08 130.27 L138.91 130.36 L139.75 130.43 L140.58 130.5 L141.41 130.55 L142.25 130.58 L143.08 130.6 L143.91 130.6 L144.75 130.6 L145.59 130.6 L146.42 130.6 L147.26 130.6 L148.09 130.6 L148.93 130.6 L149.76 130.6 L150.6 130.6 L151.43 130.59 L152.26 130.53 L153.09 130.44 L153.92 130.33 L154.75 130.19 L155.57 130.05 L156.4 129.9" fill="none" stroke="#e8408f" stroke-width="1.2" stroke-linejoin="round" stroke-linecap="butt"/>
</g>
<rect x="22.4" y="2.4" width="143.8" height="129.7" fill="none" stroke="#2b2b2b" stroke-width="1.0"/>
<line x1="22.4" y1="132.1" x2="22.4" y2="133.9" stroke="#2b2b2b" stroke-width="0.7"/>
<text x="22.4" y="140.3" font-size="6.35" text-anchor="middle" font-weight="normal" font-style="normal" fill="#2e2e2e" stroke="#2e2e2e" stroke-width="0.22">0</text>
<line x1="51.16" y1="132.1" x2="51.16" y2="133.9" stroke="#2b2b2b" stroke-width="0.7"/>
<text x="51.16" y="140.3" font-size="6.35" text-anchor="middle" font-weight="normal" font-style="normal" fill="#2e2e2e" stroke="#2e2e2e" stroke-width="0.22">1</text>
<line x1="79.92" y1="132.1" x2="79.92" y2="133.9" stroke="#2b2b2b" stroke-width="0.7"/>
<text x="79.92" y="140.3" font-size="6.35" text-anchor="middle" font-weight="normal" font-style="normal" fill="#2e2e2e" stroke="#2e2e2e" stroke-width="0.22">2</text>
<line x1="108.68" y1="132.1" x2="108.68" y2="133.9" stroke="#2b2b2b" stroke-width="0.7"/>
<text x="108.68" y="140.3" font-size="6.35" text-anchor="middle" font-weight="normal" font-style="normal" fill="#2e2e2e" stroke="#2e2e2e" stroke-width="0.22">3</text>
<line x1="137.44" y1="132.1" x2="137.44" y2="133.9" stroke="#2b2b2b" stroke-width="0.7"/>
<text x="137.44" y="140.3" font-size="6.35" text-anchor="middle" font-weight="normal" font-style="normal" fill="#2e2e2e" stroke="#2e2e2e" stroke-width="0.22">4</text>
<line x1="166.2" y1="132.1" x2="166.2" y2="133.9" stroke="#2b2b2b" stroke-width="0.7"/>
<text x="166.2" y="140.3" font-size="6.35" text-anchor="middle" font-weight="normal" font-style="normal" fill="#2e2e2e" stroke="#2e2e2e" stroke-width="0.22">5</text>
<line x1="20.6" y1="132.1" x2="22.4" y2="132.1" stroke="#2b2b2b" stroke-width="0.7"/>
<text x="19" y="134.7" font-size="6.35" text-anchor="end" font-weight="normal" font-style="normal" fill="#2e2e2e" letter-spacing="-0.22" stroke="#2e2e2e" stroke-width="0.22">0.0</text>
<line x1="20.6" y1="99.62" x2="22.4" y2="99.62" stroke="#2b2b2b" stroke-width="0.7"/>
<text x="19" y="102.22" font-size="6.35" text-anchor="end" font-weight="normal" font-style="normal" fill="#2e2e2e" letter-spacing="-0.22" stroke="#2e2e2e" stroke-width="0.22">0.5</text>
<line x1="20.6" y1="67.15" x2="22.4" y2="67.15" stroke="#2b2b2b" stroke-width="0.7"/>
<text x="19" y="69.75" font-size="6.35" text-anchor="end" font-weight="normal" font-style="normal" fill="#2e2e2e" letter-spacing="-0.22" stroke="#2e2e2e" stroke-width="0.22">1.0</text>
<line x1="20.6" y1="34.67" x2="22.4" y2="34.67" stroke="#2b2b2b" stroke-width="0.7"/>
<text x="19" y="37.27" font-size="6.35" text-anchor="end" font-weight="normal" font-style="normal" fill="#2e2e2e" letter-spacing="-0.22" stroke="#2e2e2e" stroke-width="0.22">1.5</text>
<line x1="20.6" y1="2.2" x2="22.4" y2="2.2" stroke="#2b2b2b" stroke-width="0.7"/>
<text x="19" y="4.8" font-size="6.35" text-anchor="end" font-weight="normal" font-style="normal" fill="#2e2e2e" letter-spacing="-0.22" stroke="#2e2e2e" stroke-width="0.22">2.0</text>
<text x="0.3" y="8.3" font-size="8.3" text-anchor="start" font-weight="bold" font-style="normal" fill="#111111" stroke="#111111" stroke-width="0.22">A</text>
<text x="6.2" y="67.25" font-size="7.45" text-anchor="middle" font-weight="normal" font-style="normal" fill="#1a1a1a" transform="rotate(-90 6.2 67.25)" stroke="#1a1a1a" stroke-width="0.12">Current (mA)</text>
<text x="94.3" y="148.7" font-size="7.45" text-anchor="middle" font-weight="normal" font-style="normal" fill="#1a1a1a" stroke="#1a1a1a" stroke-width="0.12">Time (days)</text>
<rect x="28.4" y="7.2" width="9.8" height="9.6" fill="#000000" fill-opacity="0.3"/>
<line x1="28.9" y1="12" x2="37.7" y2="12" stroke="#000000" stroke-width="1.45"/>
<text x="38.8" y="13.7" font-size="5.45" text-anchor="start" font-weight="normal" font-style="normal" fill="#2a2a2a" xml:space="preserve" stroke="#2a2a2a" stroke-width="0.1"><tspan font-style="normal">WT</tspan></text>
<rect x="28.4" y="17.95" width="9.8" height="9.6" fill="#1fbf4a" fill-opacity="0.3"/>
<line x1="28.9" y1="22.75" x2="37.7" y2="22.75" stroke="#1fbf4a" stroke-width="1.45"/>
<text x="38.8" y="24.45" font-size="5.45" text-anchor="start" font-weight="normal" font-style="normal" fill="#2a2a2a" xml:space="preserve" stroke="#2a2a2a" stroke-width="0.1"><tspan font-style="normal">Δ</tspan><tspan font-style="italic">nuoN</tspan></text>
<rect x="28.4" y="28.7" width="9.8" height="9.6" fill="#5b9bff" fill-opacity="0.3"/>
<line x1="28.9" y1="33.5" x2="37.7" y2="33.5" stroke="#5b9bff" stroke-width="1.45"/>
<text x="38.8" y="35.2" font-size="5.45" text-anchor="start" font-weight="normal" font-style="normal" fill="#2a2a2a" xml:space="preserve" stroke="#2a2a2a" stroke-width="0.1"><tspan font-style="normal">Δ</tspan><tspan font-style="italic">nqrF1</tspan></text>
<rect x="28.4" y="39.45" width="9.8" height="9.6" fill="#e8408f" fill-opacity="0.3"/>
<line x1="28.9" y1="44.25" x2="37.7" y2="44.25" stroke="#e8408f" stroke-width="1.45"/>
<text x="38.8" y="45.95" font-size="5.45" text-anchor="start" font-weight="normal" font-style="normal" fill="#2a2a2a" xml:space="preserve" stroke="#2a2a2a" stroke-width="0.1"><tspan font-style="normal">Δ</tspan><tspan font-style="italic">nuoN </tspan><tspan font-style="normal">Δ</tspan><tspan font-style="italic">nqrF1</tspan></text>
<rect x="198.6" y="2.4" width="139.9" height="130" fill="none" stroke="#2b2b2b" stroke-width="1.0"/>
<line x1="198.6" y1="132.4" x2="198.6" y2="134.2" stroke="#2b2b2b" stroke-width="0.7"/>
<text x="198.6" y="140.6" font-size="6.35" text-anchor="middle" font-weight="normal" font-style="normal" fill="#2e2e2e" stroke="#2e2e2e" stroke-width="0.22">0</text>
<line x1="226.58" y1="132.4" x2="226.58" y2="134.2" stroke="#2b2b2b" stroke-width="0.7"/>
<text x="226.58" y="140.6" font-size="6.35" text-anchor="middle" font-weight="normal" font-style="normal" fill="#2e2e2e" stroke="#2e2e2e" stroke-width="0.22">1</text>
<line x1="254.56" y1="132.4" x2="254.56" y2="134.2" stroke="#2b2b2b" stroke-width="0.7"/>
<text x="254.56" y="140.6" font-size="6.35" text-anchor="middle" font-weight="normal" font-style="normal" fill="#2e2e2e" stroke="#2e2e2e" stroke-width="0.22">2</text>
<line x1="282.54" y1="132.4" x2="282.54" y2="134.2" stroke="#2b2b2b" stroke-width="0.7"/>
<text x="282.54" y="140.6" font-size="6.35" text-anchor="middle" font-weight="normal" font-style="normal" fill="#2e2e2e" stroke="#2e2e2e" stroke-width="0.22">3</text>
<line x1="310.52" y1="132.4" x2="310.52" y2="134.2" stroke="#2b2b2b" stroke-width="0.7"/>
<text x="310.52" y="140.6" font-size="6.35" text-anchor="middle" font-weight="normal" font-style="normal" fill="#2e2e2e" stroke="#2e2e2e" stroke-width="0.22">4</text>
<line x1="338.5" y1="132.4" x2="338.5" y2="134.2" stroke="#2b2b2b" stroke-width="0.7"/>
<text x="338.5" y="140.6" font-size="6.35" text-anchor="middle" font-weight="normal" font-style="normal" fill="#2e2e2e" stroke="#2e2e2e" stroke-width="0.22">5</text>
<line x1="196.8" y1="128.4" x2="198.6" y2="128.4" stroke="#2b2b2b" stroke-width="0.7"/>
<text x="195.2" y="131" font-size="6.35" text-anchor="end" font-weight="normal" font-style="normal" fill="#2e2e2e" letter-spacing="-0.22" stroke="#2e2e2e" stroke-width="0.22">0.00</text>
<line x1="196.8" y1="88.9" x2="198.6" y2="88.9" stroke="#2b2b2b" stroke-width="0.7"/>
<text x="195.2" y="91.5" font-size="6.35" text-anchor="end" font-weight="normal" font-style="normal" fill="#2e2e2e" letter-spacing="-0.22" stroke="#2e2e2e" stroke-width="0.22">0.05</text>
<line x1="196.8" y1="49.4" x2="198.6" y2="49.4" stroke="#2b2b2b" stroke-width="0.7"/>
<text x="195.2" y="52" font-size="6.35" text-anchor="end" font-weight="normal" font-style="normal" fill="#2e2e2e" letter-spacing="-0.22" stroke="#2e2e2e" stroke-width="0.22">0.10</text>
<line x1="196.8" y1="9.9" x2="198.6" y2="9.9" stroke="#2b2b2b" stroke-width="0.7"/>
<text x="195.2" y="12.5" font-size="6.35" text-anchor="end" font-weight="normal" font-style="normal" fill="#2e2e2e" letter-spacing="-0.22" stroke="#2e2e2e" stroke-width="0.22">0.15</text>
<text x="172.6" y="8.3" font-size="8.3" text-anchor="start" font-weight="bold" font-style="normal" fill="#111111" stroke="#111111" stroke-width="0.22">B</text>
<text x="178.5" y="67.4" font-size="7.45" text-anchor="middle" font-weight="normal" font-style="normal" fill="#1a1a1a" transform="rotate(-90 178.5 67.4)" stroke="#1a1a1a" stroke-width="0.12">OD<tspan font-size="5.6" dy="1.6">600</tspan></text>
<text x="268.55" y="149" font-size="7.45" text-anchor="middle" font-weight="normal" font-style="normal" fill="#1a1a1a" stroke="#1a1a1a" stroke-width="0.12">Time (days)</text>
<path d="M249.8 127.29 V129.19 M248.1 127.29 H251.5 M248.1 129.19 H251.5" stroke="#5a5a5a" stroke-width="0.5" fill="none"/>
<path d="M249.8 119.55 V125.87 M248.1 119.55 H251.5 M248.1 125.87 H251.5" stroke="#5a5a5a" stroke-width="0.5" fill="none"/>
<path d="M249.8 119.08 V125.4 M248.1 119.08 H251.5 M248.1 125.4 H251.5" stroke="#5a5a5a" stroke-width="0.5" fill="none"/>
<path d="M249.8 113.79 V124.37 M248.1 113.79 H251.5 M248.1 124.37 H251.5" stroke="#5a5a5a" stroke-width="0.5" fill="none"/>
<path d="M278.9 121.37 V128.16 M277.2 121.37 H280.6 M277.2 128.16 H280.6" stroke="#5a5a5a" stroke-width="0.5" fill="none"/>
<path d="M278.9 88.58 V111.97 M277.2 88.58 H280.6 M277.2 111.97 H280.6" stroke="#5a5a5a" stroke-width="0.5" fill="none"/>
<path d="M278.9 90.24 V101.78 M277.2 90.24 H280.6 M277.2 101.78 H280.6" stroke="#5a5a5a" stroke-width="0.5" fill="none"/>
<path d="M278.9 61.49 V110.47 M277.2 61.49 H280.6 M277.2 110.47 H280.6" stroke="#5a5a5a" stroke-width="0.5" fill="none"/>
<path d="M310.52 118.29 V129.35 M308.82 118.29 H312.22 M308.82 129.35 H312.22" stroke="#5a5a5a" stroke-width="0.5" fill="none"/>
<path d="M310.52 51.22 V89.77 M308.82 51.22 H312.22 M308.82 89.77 H312.22" stroke="#5a5a5a" stroke-width="0.5" fill="none"/>
<path d="M310.52 49.95 V59.12 M308.82 49.95 H312.22 M308.82 59.12 H312.22" stroke="#5a5a5a" stroke-width="0.5" fill="none"/>
<path d="M310.52 33.84 V74.13 M308.82 33.84 H312.22 M308.82 74.13 H312.22" stroke="#5a5a5a" stroke-width="0.5" fill="none"/>
<path d="M328.71 123.74 V129.74 M327.01 123.74 H330.41 M327.01 129.74 H330.41" stroke="#5a5a5a" stroke-width="0.5" fill="none"/>
<path d="M328.71 35.65 V88.58 M327.01 35.65 H330.41 M327.01 88.58 H330.41" stroke="#5a5a5a" stroke-width="0.5" fill="none"/>
<path d="M328.71 14.01 V72.94 M327.01 14.01 H330.41 M327.01 72.94 H330.41" stroke="#5a5a5a" stroke-width="0.5" fill="none"/>
<path d="M328.71 26.49 V85.11 M327.01 26.49 H330.41 M327.01 85.11 H330.41" stroke="#5a5a5a" stroke-width="0.5" fill="none"/>
<circle cx="222.94" cy="122.24" r="1.2" fill="#000000"/>
<circle cx="249.8" cy="128.24" r="1.2" fill="#e8408f"/>
<circle cx="249.8" cy="122.71" r="1.2" fill="#5b9bff"/>
<circle cx="249.8" cy="122.24" r="1.2" fill="#1fbf4a"/>
<circle cx="249.8" cy="119.08" r="1.2" fill="#000000"/>
<circle cx="278.9" cy="124.77" r="1.2" fill="#e8408f"/>
<circle cx="278.9" cy="100.28" r="1.2" fill="#5b9bff"/>
<circle cx="278.9" cy="96.01" r="1.2" fill="#1fbf4a"/>
<circle cx="278.9" cy="85.98" r="1.2" fill="#000000"/>
<circle cx="310.52" cy="123.82" r="1.2" fill="#e8408f"/>
<circle cx="310.52" cy="70.49" r="1.2" fill="#5b9bff"/>
<circle cx="310.52" cy="54.54" r="1.2" fill="#1fbf4a"/>
<circle cx="310.52" cy="53.98" r="1.2" fill="#000000"/>
<circle cx="328.71" cy="126.74" r="1.2" fill="#e8408f"/>
<circle cx="328.71" cy="62.12" r="1.2" fill="#5b9bff"/>
<circle cx="328.71" cy="43.48" r="1.2" fill="#1fbf4a"/>
<circle cx="328.71" cy="55.8" r="1.2" fill="#000000"/>
<rect x="371" y="2.4" width="139.7" height="130" fill="none" stroke="#2b2b2b" stroke-width="1.0"/>
<line x1="371" y1="132.4" x2="371" y2="134.2" stroke="#2b2b2b" stroke-width="0.7"/>
<text x="371" y="140.6" font-size="6.35" text-anchor="middle" font-weight="normal" font-style="normal" fill="#2e2e2e" stroke="#2e2e2e" stroke-width="0.22">0</text>
<line x1="398.94" y1="132.4" x2="398.94" y2="134.2" stroke="#2b2b2b" stroke-width="0.7"/>
<text x="398.94" y="140.6" font-size="6.35" text-anchor="middle" font-weight="normal" font-style="normal" fill="#2e2e2e" stroke="#2e2e2e" stroke-width="0.22">1</text>
<line x1="426.88" y1="132.4" x2="426.88" y2="134.2" stroke="#2b2b2b" stroke-width="0.7"/>
<text x="426.88" y="140.6" font-size="6.35" text-anchor="middle" font-weight="normal" font-style="normal" fill="#2e2e2e" stroke="#2e2e2e" stroke-width="0.22">2</text>
<line x1="454.82" y1="132.4" x2="454.82" y2="134.2" stroke="#2b2b2b" stroke-width="0.7"/>
<text x="454.82" y="140.6" font-size="6.35" text-anchor="middle" font-weight="normal" font-style="normal" fill="#2e2e2e" stroke="#2e2e2e" stroke-width="0.22">3</text>
<line x1="482.76" y1="132.4" x2="482.76" y2="134.2" stroke="#2b2b2b" stroke-width="0.7"/>
<text x="482.76" y="140.6" font-size="6.35" text-anchor="middle" font-weight="normal" font-style="normal" fill="#2e2e2e" stroke="#2e2e2e" stroke-width="0.22">4</text>
<line x1="510.7" y1="132.4" x2="510.7" y2="134.2" stroke="#2b2b2b" stroke-width="0.7"/>
<text x="510.7" y="140.6" font-size="6.35" text-anchor="middle" font-weight="normal" font-style="normal" fill="#2e2e2e" stroke="#2e2e2e" stroke-width="0.22">5</text>
<line x1="369.2" y1="127.9" x2="371" y2="127.9" stroke="#2b2b2b" stroke-width="0.7"/>
<text x="367.6" y="130.5" font-size="6.35" text-anchor="end" font-weight="normal" font-style="normal" fill="#2e2e2e" letter-spacing="-0.22" stroke="#2e2e2e" stroke-width="0.22">0.0</text>
<line x1="369.2" y1="99.2" x2="371" y2="99.2" stroke="#2b2b2b" stroke-width="0.7"/>
<text x="367.6" y="101.8" font-size="6.35" text-anchor="end" font-weight="normal" font-style="normal" fill="#2e2e2e" letter-spacing="-0.22" stroke="#2e2e2e" stroke-width="0.22">2.5</text>
<line x1="369.2" y1="70.5" x2="371" y2="70.5" stroke="#2b2b2b" stroke-width="0.7"/>
<text x="367.6" y="73.1" font-size="6.35" text-anchor="end" font-weight="normal" font-style="normal" fill="#2e2e2e" letter-spacing="-0.22" stroke="#2e2e2e" stroke-width="0.22">5.0</text>
<line x1="369.2" y1="41.8" x2="371" y2="41.8" stroke="#2b2b2b" stroke-width="0.7"/>
<text x="367.6" y="44.4" font-size="6.35" text-anchor="end" font-weight="normal" font-style="normal" fill="#2e2e2e" letter-spacing="-0.22" stroke="#2e2e2e" stroke-width="0.22">7.5</text>
<line x1="369.2" y1="13.1" x2="371" y2="13.1" stroke="#2b2b2b" stroke-width="0.7"/>
<text x="367.6" y="15.7" font-size="6.35" text-anchor="end" font-weight="normal" font-style="normal" fill="#2e2e2e" letter-spacing="-0.22" stroke="#2e2e2e" stroke-width="0.22">10.0</text>
<text x="345.2" y="8.3" font-size="8.3" text-anchor="start" font-weight="bold" font-style="normal" fill="#111111" stroke="#111111" stroke-width="0.22">C</text>
<text x="351.5" y="67.4" font-size="7.45" text-anchor="middle" font-weight="normal" font-style="normal" fill="#1a1a1a" transform="rotate(-90 351.5 67.4)" stroke="#1a1a1a" stroke-width="0.12">[NAG] (mM)</text>
<text x="440.85" y="149" font-size="7.45" text-anchor="middle" font-weight="normal" font-style="normal" fill="#1a1a1a" stroke="#1a1a1a" stroke-width="0.12">Time (days)</text>
<path d="M395.31 44.9 V60.97 M393.61 44.9 H397.01 M393.61 60.97 H397.01" stroke="#5a5a5a" stroke-width="0.5" fill="none"/>
<path d="M395.31 40.08 V59.59 M393.61 40.08 H397.01 M393.61 59.59 H397.01" stroke="#5a5a5a" stroke-width="0.5" fill="none"/>
<path d="M395.31 35.6 V48.23 M393.61 35.6 H397.01 M393.61 48.23 H397.01" stroke="#5a5a5a" stroke-width="0.5" fill="none"/>
<path d="M395.31 38.24 V49.72 M393.61 38.24 H397.01 M393.61 49.72 H397.01" stroke="#5a5a5a" stroke-width="0.5" fill="none"/>
<path d="M422.13 47.77 V54.66 M420.43 47.77 H423.83 M420.43 54.66 H423.83" stroke="#5a5a5a" stroke-width="0.5" fill="none"/>
<path d="M422.13 39.27 V59.48 M420.43 39.27 H423.83 M420.43 59.48 H423.83" stroke="#5a5a5a" stroke-width="0.5" fill="none"/>
<path d="M422.13 15.05 V37.09 M420.43 15.05 H423.83 M420.43 37.09 H423.83" stroke="#5a5a5a" stroke-width="0.5" fill="none"/>
<path d="M422.13 36.75 V49.38 M420.43 36.75 H423.83 M420.43 49.38 H423.83" stroke="#5a5a5a" stroke-width="0.5" fill="none"/>
<path d="M451.19 42.26 V58.1 M449.49 42.26 H452.89 M449.49 58.1 H452.89" stroke="#5a5a5a" stroke-width="0.5" fill="none"/>
<path d="M451.19 49.61 V63.38 M449.49 49.61 H452.89 M449.49 63.38 H452.89" stroke="#5a5a5a" stroke-width="0.5" fill="none"/>
<path d="M451.19 24.35 V67.74 M449.49 24.35 H452.89 M449.49 67.74 H452.89" stroke="#5a5a5a" stroke-width="0.5" fill="none"/>
<path d="M451.19 50.07 V65.91 M449.49 50.07 H452.89 M449.49 65.91 H452.89" stroke="#5a5a5a" stroke-width="0.5" fill="none"/>
<path d="M482.76 39.04 V57.87 M481.06 39.04 H484.46 M481.06 57.87 H484.46" stroke="#5a5a5a" stroke-width="0.5" fill="none"/>
<path d="M482.76 58.45 V79.11 M481.06 58.45 H484.46 M481.06 79.11 H484.46" stroke="#5a5a5a" stroke-width="0.5" fill="none"/>
<path d="M482.76 55.12 V78.54 M481.06 55.12 H484.46 M481.06 78.54 H484.46" stroke="#5a5a5a" stroke-width="0.5" fill="none"/>
<path d="M482.76 54.89 V92.54 M481.06 54.89 H484.46 M481.06 92.54 H484.46" stroke="#5a5a5a" stroke-width="0.5" fill="none"/>
<path d="M500.92 41.34 V56.95 M499.22 41.34 H502.62 M499.22 56.95 H502.62" stroke="#5a5a5a" stroke-width="0.5" fill="none"/>
<path d="M500.92 66.48 V84.85 M499.22 66.48 H502.62 M499.22 84.85 H502.62" stroke="#5a5a5a" stroke-width="0.5" fill="none"/>
<path d="M500.92 65.33 V84.16 M499.22 65.33 H502.62 M499.22 84.16 H502.62" stroke="#5a5a5a" stroke-width="0.5" fill="none"/>
<path d="M500.92 57.99 V107.35 M499.22 57.99 H502.62 M499.22 107.35 H502.62" stroke="#5a5a5a" stroke-width="0.5" fill="none"/>
<circle cx="395.31" cy="52.94" r="1.2" fill="#e8408f"/>
<circle cx="395.31" cy="49.84" r="1.2" fill="#5b9bff"/>
<circle cx="395.31" cy="41.91" r="1.2" fill="#1fbf4a"/>
<circle cx="395.31" cy="43.98" r="1.2" fill="#000000"/>
<circle cx="422.13" cy="51.21" r="1.2" fill="#e8408f"/>
<circle cx="422.13" cy="49.38" r="1.2" fill="#5b9bff"/>
<circle cx="422.13" cy="26.07" r="1.2" fill="#1fbf4a"/>
<circle cx="422.13" cy="43.06" r="1.2" fill="#000000"/>
<circle cx="451.19" cy="50.18" r="1.2" fill="#e8408f"/>
<circle cx="451.19" cy="56.49" r="1.2" fill="#5b9bff"/>
<circle cx="451.19" cy="46.05" r="1.2" fill="#1fbf4a"/>
<circle cx="451.19" cy="57.99" r="1.2" fill="#000000"/>
<circle cx="482.76" cy="48.46" r="1.2" fill="#e8408f"/>
<circle cx="482.76" cy="68.78" r="1.2" fill="#5b9bff"/>
<circle cx="482.76" cy="66.83" r="1.2" fill="#1fbf4a"/>
<circle cx="482.76" cy="73.71" r="1.2" fill="#000000"/>
<circle cx="500.92" cy="49.15" r="1.2" fill="#e8408f"/>
<circle cx="500.92" cy="75.67" r="1.2" fill="#5b9bff"/>
<circle cx="500.92" cy="74.75" r="1.2" fill="#1fbf4a"/>
<circle cx="500.92" cy="82.67" r="1.2" fill="#000000"/>
<rect x="543.6" y="2.4" width="139.7" height="130" fill="none" stroke="#2b2b2b" stroke-width="1.0"/>
<line x1="543.6" y1="132.4" x2="543.6" y2="134.2" stroke="#2b2b2b" stroke-width="0.7"/>
<text x="543.6" y="140.6" font-size="6.35" text-anchor="middle" font-weight="normal" font-style="normal" fill="#2e2e2e" stroke="#2e2e2e" stroke-width="0.22">0</text>
<line x1="571.55" y1="132.4" x2="571.55" y2="134.2" stroke="#2b2b2b" stroke-width="0.7"/>
<text x="571.55" y="140.6" font-size="6.35" text-anchor="middle" font-weight="normal" font-style="normal" fill="#2e2e2e" stroke="#2e2e2e" stroke-width="0.22">1</text>
<line x1="599.5" y1="132.4" x2="599.5" y2="134.2" stroke="#2b2b2b" stroke-width="0.7"/>
<text x="599.5" y="140.6" font-size="6.35" text-anchor="middle" font-weight="normal" font-style="normal" fill="#2e2e2e" stroke="#2e2e2e" stroke-width="0.22">2</text>
<line x1="627.45" y1="132.4" x2="627.45" y2="134.2" stroke="#2b2b2b" stroke-width="0.7"/>
<text x="627.45" y="140.6" font-size="6.35" text-anchor="middle" font-weight="normal" font-style="normal" fill="#2e2e2e" stroke="#2e2e2e" stroke-width="0.22">3</text>
<line x1="655.4" y1="132.4" x2="655.4" y2="134.2" stroke="#2b2b2b" stroke-width="0.7"/>
<text x="655.4" y="140.6" font-size="6.35" text-anchor="middle" font-weight="normal" font-style="normal" fill="#2e2e2e" stroke="#2e2e2e" stroke-width="0.22">4</text>
<line x1="683.35" y1="132.4" x2="683.35" y2="134.2" stroke="#2b2b2b" stroke-width="0.7"/>
<text x="683.35" y="140.6" font-size="6.35" text-anchor="middle" font-weight="normal" font-style="normal" fill="#2e2e2e" stroke="#2e2e2e" stroke-width="0.22">5</text>
<line x1="541.8" y1="127.9" x2="543.6" y2="127.9" stroke="#2b2b2b" stroke-width="0.7"/>
<text x="540.2" y="130.5" font-size="6.35" text-anchor="end" font-weight="normal" font-style="normal" fill="#2e2e2e" letter-spacing="-0.22" stroke="#2e2e2e" stroke-width="0.22">0.0</text>
<line x1="541.8" y1="99.2" x2="543.6" y2="99.2" stroke="#2b2b2b" stroke-width="0.7"/>
<text x="540.2" y="101.8" font-size="6.35" text-anchor="end" font-weight="normal" font-style="normal" fill="#2e2e2e" letter-spacing="-0.22" stroke="#2e2e2e" stroke-width="0.22">2.5</text>
<line x1="541.8" y1="70.5" x2="543.6" y2="70.5" stroke="#2b2b2b" stroke-width="0.7"/>
<text x="540.2" y="73.1" font-size="6.35" text-anchor="end" font-weight="normal" font-style="normal" fill="#2e2e2e" letter-spacing="-0.22" stroke="#2e2e2e" stroke-width="0.22">5.0</text>
<line x1="541.8" y1="41.8" x2="543.6" y2="41.8" stroke="#2b2b2b" stroke-width="0.7"/>
<text x="540.2" y="44.4" font-size="6.35" text-anchor="end" font-weight="normal" font-style="normal" fill="#2e2e2e" letter-spacing="-0.22" stroke="#2e2e2e" stroke-width="0.22">7.5</text>
<line x1="541.8" y1="13.1" x2="543.6" y2="13.1" stroke="#2b2b2b" stroke-width="0.7"/>
<text x="540.2" y="15.7" font-size="6.35" text-anchor="end" font-weight="normal" font-style="normal" fill="#2e2e2e" letter-spacing="-0.22" stroke="#2e2e2e" stroke-width="0.22">10.0</text>
<text x="517.6" y="8.3" font-size="8.3" text-anchor="start" font-weight="bold" font-style="normal" fill="#111111" stroke="#111111" stroke-width="0.22">D</text>
<text x="524" y="67.4" font-size="7.45" text-anchor="middle" font-weight="normal" font-style="normal" fill="#1a1a1a" transform="rotate(-90 524 67.4)" stroke="#1a1a1a" stroke-width="0.12">[Acetate] (mM)</text>
<text x="613.45" y="149" font-size="7.45" text-anchor="middle" font-weight="normal" font-style="normal" fill="#1a1a1a" stroke="#1a1a1a" stroke-width="0.12">Time (days)</text>
<path d="M594.75 121.01 V127.9 M593.05 121.01 H596.45 M593.05 127.9 H596.45" stroke="#5a5a5a" stroke-width="0.5" fill="none"/>
<path d="M594.75 116.99 V129.85 M593.05 116.99 H596.45 M593.05 129.85 H596.45" stroke="#5a5a5a" stroke-width="0.5" fill="none"/>
<path d="M594.75 121.47 V128.36 M593.05 121.47 H596.45 M593.05 128.36 H596.45" stroke="#5a5a5a" stroke-width="0.5" fill="none"/>
<path d="M623.82 76.81 V122.27 M622.12 76.81 H625.52 M622.12 122.27 H625.52" stroke="#5a5a5a" stroke-width="0.5" fill="none"/>
<path d="M623.82 88.06 V97.25 M622.12 88.06 H625.52 M622.12 97.25 H625.52" stroke="#5a5a5a" stroke-width="0.5" fill="none"/>
<path d="M623.82 70.16 V112.4 M622.12 70.16 H625.52 M622.12 112.4 H625.52" stroke="#5a5a5a" stroke-width="0.5" fill="none"/>
<path d="M655.4 51.9 V86.34 M653.7 51.9 H657.1 M653.7 86.34 H657.1" stroke="#5a5a5a" stroke-width="0.5" fill="none"/>
<path d="M655.4 29.98 V64.87 M653.7 29.98 H657.1 M653.7 64.87 H657.1" stroke="#5a5a5a" stroke-width="0.5" fill="none"/>
<path d="M655.4 26.3 V81.64 M653.7 26.3 H657.1 M653.7 81.64 H657.1" stroke="#5a5a5a" stroke-width="0.5" fill="none"/>
<path d="M673.57 36.4 V69.47 M671.87 36.4 H675.27 M671.87 69.47 H675.27" stroke="#5a5a5a" stroke-width="0.5" fill="none"/>
<path d="M673.57 15.05 V30.89 M671.87 15.05 H675.27 M671.87 30.89 H675.27" stroke="#5a5a5a" stroke-width="0.5" fill="none"/>
<path d="M673.57 6.56 V64.65 M671.87 6.56 H675.27 M671.87 64.65 H675.27" stroke="#5a5a5a" stroke-width="0.5" fill="none"/>
<circle cx="567.92" cy="127.9" r="1.2" fill="#000000"/>
<circle cx="594.75" cy="127.9" r="1.2" fill="#e8408f"/>
<circle cx="594.75" cy="124.46" r="1.2" fill="#5b9bff"/>
<circle cx="594.75" cy="123.42" r="1.2" fill="#1fbf4a"/>
<circle cx="594.75" cy="124.92" r="1.2" fill="#000000"/>
<circle cx="623.82" cy="127.9" r="1.2" fill="#e8408f"/>
<circle cx="623.82" cy="99.54" r="1.2" fill="#5b9bff"/>
<circle cx="623.82" cy="92.66" r="1.2" fill="#1fbf4a"/>
<circle cx="623.82" cy="91.28" r="1.2" fill="#000000"/>
<circle cx="655.4" cy="127.9" r="1.2" fill="#e8408f"/>
<circle cx="655.4" cy="69.12" r="1.2" fill="#5b9bff"/>
<circle cx="655.4" cy="47.43" r="1.2" fill="#1fbf4a"/>
<circle cx="655.4" cy="53.97" r="1.2" fill="#000000"/>
<circle cx="673.57" cy="127.9" r="1.2" fill="#e8408f"/>
<circle cx="673.57" cy="52.94" r="1.2" fill="#5b9bff"/>
<circle cx="673.57" cy="22.97" r="1.2" fill="#1fbf4a"/>
<circle cx="673.57" cy="35.6" r="1.2" fill="#000000"/>
<g>
<path d="M53 287 L53.05 286 L53.1 284.99 L53.16 283.99 L53.22 282.98 L53.28 281.98 L53.34 280.98 L53.41 279.97 L53.48 278.97 L53.55 277.97 L53.62 276.96 L53.69 275.96 L53.77 274.96 L53.84 273.96 L53.92 272.96 L54 271.95 L54.09 270.95 L54.17 269.95 L54.27 268.95 L54.36 267.95 L54.46 266.95 L54.56 265.95 L54.66 264.95 L54.77 263.95 L54.88 262.95 L54.99 261.95 L55.1 260.95 L55.21 259.95 L55.32 258.95 L55.43 257.95 L55.54 256.95 L55.66 255.95 L55.77 254.95 L55.89 253.96 L56.01 252.96 L56.13 251.96 L56.26 250.96 L56.39 249.96 L56.52 248.97 L56.66 247.97 L56.8 246.98 L56.95 245.98 L57.1 244.99 L57.26 244 L57.43 243.01 L57.61 242.02 L57.79 241.03 L57.97 240.04 L58.16 239.05 L58.34 238.06 L58.53 237.08 L58.71 236.09 L58.89 235.1 L59.08 234.11 L59.28 233.12 L59.48 232.14 L59.68 231.15 L59.88 230.17 L60.07 229.18 L60.26 228.19 L60.44 227.2 L60.61 226.21 L60.77 225.22 L60.91 224.23 L61.05 223.23 L61.17 222.24 L61.3 221.24 L61.42 220.24 L61.54 219.24 L61.65 218.24 L61.76 217.24 L61.86 216.24 L61.97 215.24 L62.07 214.24 L62.17 213.24 L62.28 212.24 L62.38 211.24 L62.47 210.24 L62.56 209.24 L62.65 208.24 L62.73 207.23 L62.82 206.23 L62.9 205.23 L62.99 204.23 L63.08 203.23 L63.17 202.23 L63.27 201.23 L63.37 200.23 L63.49 199.23 L63.61 198.23 L63.75 197.24 L63.88 196.24 L64.03 195.24 L64.17 194.25 L64.32 193.25 L64.47 192.26 L64.62 191.26 L64.76 190.27 L64.9 189.27 L65.03 188.28 L65.16 187.28 L65.29 186.28 L65.42 185.28 L65.55 184.28 L65.69 183.29 L65.83 182.29 L65.99 181.3 L66.15 180.31 L66.33 179.32 L66.51 178.17 L66.68 176.88 L66.88 175.62 L67.12 174.53 L67.42 173.78 L67.81 173.5 L68.72 173.61 L69.8 173.83 L70.69 174.46 L71.51 174.99 L72.22 174.7 L72.85 173.85 L73.49 172.86 L74.23 172.12 L75.12 171.43 L75.97 171.01 L76.66 171.36 L77.26 172.35 L77.76 173.3 L78.16 174.22 L78.52 175.17 L78.9 176.1 L79.36 176.98 L79.86 177.88 L80.4 178.77 L80.97 179.65 L81.58 180.5 L82.22 181.28 L82.9 181.99 L83.61 182.61 L84.42 183.11 L85.34 183.53 L86.31 183.92 L87.26 184.33 L88.12 184.82 L88.91 185.4 L89.66 186.06 L90.39 186.77 L91.09 187.52 L91.76 188.29 L92.41 189.07 L93.03 189.85 L93.61 190.65 L94.17 191.48 L94.72 192.33 L95.25 193.19 L95.78 194.05 L96.32 194.91 L96.87 195.76 L97.44 196.59 L98.01 197.41 L98.59 198.23 L99.18 199.05 L99.77 199.86 L100.36 200.68 L100.95 201.49 L101.54 202.3 L102.13 203.12 L102.72 203.93 L103.31 204.75 L103.89 205.57 L104.47 206.39 L105.05 207.21 L105.63 208.03 L106.2 208.86 L106.78 209.68 L107.37 210.5 L107.96 211.31 L108.55 212.12 L109.15 212.93 L109.75 213.74 L110.35 214.55 L110.95 215.36 L111.55 216.18 L112.16 216.98 L112.78 217.78 L113.41 218.56 L114.05 219.33 L114.71 220.08 L115.39 220.8 L116.1 221.52 L116.82 222.23 L117.56 222.93 L118.32 223.6 L119.09 224.26 L119.89 224.88 L120.69 225.46 L121.52 226 L122.38 226.5 L123.26 226.98 L124.16 227.43 L125.08 227.86 L126.01 228.28 L126.93 228.68 L127.86 229.08 L128.79 229.45 L129.73 229.8 L130.67 230.15 L131.62 230.5 L132.56 230.85 L133.5 231.22 L134.44 231.58 L135.38 231.94 L136.33 232.3 L137.28 232.66 L138.22 233.02 L139.15 233.4 L140.08 233.79 L140.99 234.2 L141.88 234.64 L142.75 235.09 L143.63 235.56 L144.49 236.05 L145.35 236.55 L146.21 237.06 L147.06 237.59 L147.9 238.14 L148.74 238.7 L149.56 239.27 L150.38 239.86 L151.2 240.46 L152 241.08 L152.8 241.72 L153.59 242.37 L154.37 243.03 L155.14 243.71 L155.9 244.4 L155.9 264.6 L154.9 264.42 L153.91 264.22 L152.92 264.01 L151.93 263.79 L150.95 263.56 L149.97 263.32 L148.99 263.07 L148.02 262.81 L147.05 262.54 L146.09 262.26 L145.12 261.98 L144.17 261.69 L143.21 261.39 L142.26 261.08 L141.31 260.77 L140.38 260.43 L139.44 260.06 L138.52 259.68 L137.59 259.28 L136.67 258.86 L135.76 258.44 L134.84 258.02 L133.93 257.59 L133.01 257.17 L132.09 256.75 L131.17 256.34 L130.24 255.94 L129.31 255.56 L128.37 255.2 L127.43 254.85 L126.48 254.51 L125.53 254.18 L124.58 253.84 L123.63 253.51 L122.68 253.16 L121.74 252.81 L120.81 252.44 L119.89 252.05 L118.97 251.65 L118.05 251.24 L117.13 250.81 L116.21 250.38 L115.3 249.93 L114.4 249.48 L113.51 249.01 L112.62 248.53 L111.74 248.04 L110.88 247.54 L110.03 247.02 L109.18 246.49 L108.32 245.95 L107.46 245.39 L106.59 244.82 L105.74 244.23 L104.89 243.63 L104.06 243.01 L103.26 242.38 L102.49 241.73 L101.75 241.06 L101.05 240.37 L100.39 239.66 L99.79 238.94 L99.23 238.17 L98.69 237.36 L98.18 236.51 L97.7 235.64 L97.23 234.74 L96.77 233.82 L96.33 232.89 L95.89 231.95 L95.46 231.01 L95.02 230.08 L94.58 229.16 L94.13 228.25 L93.67 227.34 L93.24 226.41 L92.82 225.46 L92.42 224.49 L92.02 223.52 L91.63 222.54 L91.22 221.58 L90.81 220.63 L90.38 219.71 L89.92 218.82 L89.44 217.97 L88.92 217.17 L88.36 216.43 L87.75 215.73 L87 214.98 L86.14 214.24 L85.24 213.59 L84.35 213.15 L83.53 213 L82.75 213.28 L81.97 213.93 L81.22 214.8 L80.54 215.73 L79.94 216.58 L79.42 217.39 L78.92 218.24 L78.46 219.13 L78.02 220.05 L77.61 220.98 L77.21 221.93 L76.83 222.88 L76.45 223.83 L76.09 224.78 L75.72 225.71 L75.37 226.65 L75.02 227.6 L74.68 228.55 L74.35 229.5 L74.04 230.46 L73.73 231.42 L73.44 232.38 L73.17 233.35 L72.92 234.32 L72.68 235.29 L72.45 236.27 L72.23 237.25 L72.02 238.23 L71.82 239.22 L71.63 240.21 L71.43 241.2 L71.24 242.19 L71.06 243.18 L70.86 244.17 L70.67 245.16 L70.47 246.14 L70.27 247.13 L70.08 248.12 L69.89 249.1 L69.7 250.09 L69.51 251.08 L69.32 252.07 L69.13 253.06 L68.93 254.04 L68.72 255.02 L68.5 256.01 L68.28 256.99 L68.07 257.99 L67.85 259 L67.63 260 L67.41 261 L67.16 261.99 L66.89 262.96 L66.6 263.91 L66.27 264.83 L65.91 265.71 L65.43 266.55 L64.85 267.37 L64.19 268.16 L63.51 268.94 L62.84 269.71 L62.19 270.48 L61.49 271.22 L60.79 271.96 L60.12 272.7 L59.51 273.49 L58.96 274.31 L58.44 275.17 L57.94 276.04 L57.46 276.94 L57 277.85 L56.57 278.76 L56.15 279.68 L55.74 280.59 L55.35 281.51 L54.97 282.44 L54.6 283.38 L54.25 284.32 L53.92 285.27 L53.6 286.23 L53.3 287.2Z" fill="#000000" fill-opacity="0.3" stroke="none"/>
<path d="M53.6 287 L53.73 286 L53.87 285 L54.02 284 L54.16 283.01 L54.31 282.01 L54.46 281.01 L54.62 280.02 L54.78 279.02 L54.94 278.03 L55.11 277.03 L55.28 276.04 L55.45 275.05 L55.63 274.06 L55.81 273.07 L55.99 272.08 L56.17 271.09 L56.37 270.1 L56.57 269.11 L56.77 268.13 L56.99 267.14 L57.2 266.16 L57.42 265.17 L57.64 264.19 L57.86 263.2 L58.08 262.22 L58.3 261.24 L58.52 260.25 L58.73 259.27 L58.94 258.28 L59.15 257.3 L59.35 256.31 L59.56 255.32 L59.77 254.34 L59.98 253.35 L60.19 252.36 L60.4 251.38 L60.6 250.39 L60.8 249.4 L61 248.41 L61.2 247.43 L61.39 246.44 L61.57 245.45 L61.75 244.46 L61.92 243.46 L62.09 242.47 L62.25 241.48 L62.41 240.48 L62.56 239.49 L62.71 238.49 L62.86 237.49 L63.01 236.5 L63.15 235.5 L63.29 234.5 L63.43 233.5 L63.56 232.5 L63.7 231.5 L63.83 230.5 L63.95 229.5 L64.08 228.5 L64.2 227.5 L64.32 226.5 L64.44 225.5 L64.56 224.5 L64.67 223.5 L64.78 222.5 L64.88 221.5 L64.99 220.5 L65.09 219.49 L65.18 218.49 L65.28 217.49 L65.38 216.48 L65.47 215.48 L65.57 214.48 L65.66 213.47 L65.76 212.47 L65.86 211.47 L65.95 210.46 L66.05 209.46 L66.15 208.46 L66.24 207.45 L66.33 206.45 L66.43 205.45 L66.52 204.44 L66.62 203.44 L66.71 202.44 L66.82 201.43 L66.93 200.43 L67.05 199.43 L67.17 198.44 L67.3 197.43 L67.44 196.43 L67.59 195.43 L67.74 194.43 L67.91 193.44 L68.09 192.44 L68.28 191.46 L68.49 190.48 L68.72 189.46 L69.01 188.25 L69.34 187 L69.7 185.9 L70.05 185.18 L70.39 185.02 L70.71 185.44 L71.03 186.28 L71.35 187.4 L71.68 188.65 L72.02 189.89 L72.39 190.96 L72.77 191.89 L73.16 192.82 L73.57 193.75 L73.99 194.67 L74.43 195.58 L74.88 196.48 L75.35 197.37 L75.84 198.24 L76.35 199.11 L76.88 199.97 L77.44 200.81 L78.01 201.65 L78.6 202.46 L79.2 203.27 L79.81 204.1 L80.44 204.92 L81.11 205.69 L81.82 206.36 L82.61 206.92 L83.48 207.42 L84.41 207.88 L85.36 208.27 L86.3 208.6 L87.27 208.86 L88.26 209.09 L89.25 209.31 L90.22 209.56 L91.22 209.81 L92.22 210.07 L93.2 210.34 L94.15 210.65 L95.04 211.02 L95.87 211.49 L96.66 212.09 L97.42 212.77 L98.16 213.5 L98.89 214.24 L99.63 214.96 L100.38 215.64 L101.13 216.31 L101.87 216.99 L102.61 217.68 L103.35 218.36 L104.09 219.04 L104.84 219.72 L105.57 220.42 L106.3 221.13 L107.03 221.85 L107.75 222.58 L108.48 223.3 L109.21 224.02 L109.94 224.72 L110.69 225.39 L111.46 226.04 L112.24 226.65 L113.04 227.21 L113.87 227.72 L114.74 228.2 L115.64 228.65 L116.56 229.07 L117.5 229.48 L118.44 229.87 L119.38 230.25 L120.32 230.63 L121.26 230.98 L122.21 231.32 L123.16 231.65 L124.12 231.97 L125.08 232.28 L126.04 232.6 L126.99 232.92 L127.94 233.25 L128.89 233.6 L129.82 233.97 L130.75 234.35 L131.68 234.75 L132.6 235.16 L133.51 235.59 L134.42 236.01 L135.34 236.45 L136.25 236.88 L137.16 237.32 L138.07 237.75 L138.98 238.18 L139.9 238.59 L140.82 239 L141.75 239.4 L142.68 239.78 L143.61 240.16 L144.55 240.53 L145.48 240.9 L146.42 241.27 L147.36 241.63 L148.3 241.99 L149.25 242.34 L150.19 242.69 L151.14 243.04 L152.09 243.38 L153.04 243.72 L153.99 244.05 L154.94 244.38 L155.9 244.7 L155.9 268 L154.87 267.94 L153.84 267.86 L152.82 267.76 L151.8 267.63 L150.79 267.48 L149.79 267.31 L148.8 267.13 L147.81 266.93 L146.83 266.71 L145.85 266.49 L144.88 266.25 L143.92 266.01 L142.96 265.76 L142.02 265.5 L141.08 265.22 L140.15 264.88 L139.24 264.5 L138.33 264.08 L137.44 263.62 L136.54 263.14 L135.66 262.64 L134.77 262.13 L133.88 261.61 L133 261.1 L132.11 260.59 L131.21 260.1 L130.31 259.64 L129.4 259.2 L128.48 258.79 L127.56 258.39 L126.63 258 L125.69 257.62 L124.76 257.24 L123.83 256.85 L122.89 256.47 L121.97 256.08 L121.04 255.68 L120.13 255.26 L119.22 254.83 L118.3 254.4 L117.39 253.97 L116.48 253.53 L115.57 253.08 L114.66 252.62 L113.76 252.16 L112.88 251.68 L112 251.19 L111.13 250.69 L110.28 250.17 L109.43 249.64 L108.58 249.09 L107.72 248.54 L106.86 247.97 L106 247.38 L105.16 246.78 L104.33 246.16 L103.52 245.53 L102.74 244.88 L102 244.21 L101.29 243.52 L100.63 242.81 L100.02 242.07 L99.46 241.29 L98.94 240.45 L98.46 239.57 L98 238.66 L97.54 237.74 L97.09 236.81 L96.62 235.89 L96.14 234.99 L95.62 234.12 L95.06 233.29 L94.47 232.48 L93.86 231.67 L93.24 230.88 L92.62 230.08 L92 229.27 L91.41 228.46 L90.85 227.63 L90.31 226.78 L89.78 225.92 L89.26 225.06 L88.74 224.2 L88.23 223.33 L87.72 222.46 L87.2 221.59 L86.68 220.73 L86.15 219.78 L85.6 218.67 L85.06 217.55 L84.52 216.6 L83.99 215.97 L83.48 215.81 L82.98 216.17 L82.48 216.92 L82 217.94 L81.52 219.09 L81.05 220.26 L80.59 221.31 L80.15 222.22 L79.72 223.13 L79.3 224.04 L78.89 224.96 L78.48 225.89 L78.08 226.81 L77.68 227.74 L77.27 228.66 L76.87 229.58 L76.48 230.51 L76.09 231.44 L75.73 232.38 L75.38 233.33 L75.06 234.28 L74.74 235.23 L74.43 236.19 L74.14 237.16 L73.85 238.12 L73.56 239.09 L73.28 240.06 L72.99 241.02 L72.71 241.99 L72.44 242.96 L72.18 243.94 L71.92 244.91 L71.66 245.89 L71.4 246.86 L71.14 247.83 L70.86 248.8 L70.57 249.76 L70.27 250.72 L69.96 251.68 L69.64 252.64 L69.31 253.59 L68.98 254.54 L68.64 255.49 L68.3 256.44 L67.95 257.39 L67.61 258.33 L67.26 259.28 L66.92 260.23 L66.58 261.18 L66.25 262.13 L65.91 263.09 L65.58 264.04 L65.23 264.99 L64.87 265.93 L64.5 266.86 L64.1 267.78 L63.68 268.68 L63.22 269.58 L62.74 270.46 L62.24 271.34 L61.72 272.21 L61.19 273.07 L60.66 273.93 L60.13 274.79 L59.59 275.64 L59.01 276.47 L58.41 277.3 L57.81 278.12 L57.23 278.95 L56.68 279.79 L56.18 280.65 L55.74 281.53 L55.32 282.44 L54.92 283.36 L54.55 284.3 L54.2 285.25 L53.89 286.22 L53.6 287.2Z" fill="#5b9bff" fill-opacity="0.3" stroke="none"/>
<path d="M53.7 287 L53.8 285.99 L53.91 284.98 L54.03 283.97 L54.16 282.97 L54.3 281.97 L54.45 280.97 L54.6 279.97 L54.76 278.97 L54.93 277.98 L55.11 276.98 L55.29 275.99 L55.48 275 L55.67 274.01 L55.87 273.02 L56.07 272.04 L56.28 271.05 L56.48 270.07 L56.71 269.09 L56.95 268.12 L57.21 267.15 L57.49 266.18 L57.78 265.21 L58.07 264.24 L58.38 263.28 L58.68 262.31 L58.99 261.35 L59.29 260.38 L59.59 259.42 L59.87 258.45 L60.15 257.48 L60.42 256.51 L60.69 255.53 L60.96 254.56 L61.23 253.59 L61.5 252.61 L61.76 251.64 L62.03 250.67 L62.29 249.69 L62.55 248.72 L62.8 247.74 L63.05 246.76 L63.3 245.79 L63.55 244.81 L63.79 243.83 L64.03 242.85 L64.27 241.87 L64.51 240.89 L64.74 239.91 L64.98 238.92 L65.21 237.94 L65.43 236.96 L65.65 235.97 L65.87 234.99 L66.08 234 L66.29 233.01 L66.5 232.02 L66.69 231.04 L66.89 230.05 L67.08 229.06 L67.27 228.06 L67.45 227.07 L67.64 226.08 L67.82 225.09 L67.99 224.09 L68.16 223.1 L68.33 222.1 L68.5 221.11 L68.66 220.11 L68.82 219.11 L68.98 218.12 L69.14 217.12 L69.29 216.12 L69.43 215.13 L69.58 214.13 L69.72 213.13 L69.86 212.13 L69.99 211.13 L70.13 210.13 L70.26 209.13 L70.39 208.13 L70.52 207.13 L70.65 206.13 L70.78 205.12 L70.91 204.12 L71.03 203.12 L71.14 202.12 L71.25 201.11 L71.37 200.11 L71.48 199.11 L71.61 198.1 L71.74 197.11 L71.88 196.11 L72.04 195.11 L72.21 194.12 L72.38 193.12 L72.57 192.12 L72.78 191.13 L72.99 190.14 L73.22 189.15 L73.47 188.18 L73.74 187.22 L74.03 186.18 L74.37 184.96 L74.75 183.76 L75.17 182.75 L75.62 182.12 L76.1 182.05 L76.69 182.59 L77.34 183.5 L77.98 184.56 L78.57 185.55 L79.08 186.41 L79.58 187.29 L80.05 188.18 L80.5 189.09 L80.93 190.01 L81.35 190.93 L81.75 191.85 L82.12 192.79 L82.46 193.74 L82.8 194.7 L83.15 195.64 L83.53 196.57 L83.94 197.5 L84.37 198.41 L84.82 199.32 L85.28 200.22 L85.77 201.1 L86.28 201.96 L86.84 202.8 L87.42 203.63 L88.02 204.44 L88.62 205.26 L89.2 206.09 L89.77 206.92 L90.34 207.75 L90.92 208.58 L91.49 209.41 L92.06 210.24 L92.63 211.07 L93.21 211.9 L93.8 212.72 L94.39 213.54 L94.97 214.36 L95.56 215.19 L96.15 216.02 L96.74 216.84 L97.33 217.66 L97.94 218.47 L98.56 219.26 L99.19 220.05 L99.83 220.81 L100.5 221.56 L101.17 222.31 L101.86 223.05 L102.55 223.79 L103.26 224.52 L103.98 225.25 L104.71 225.96 L105.44 226.66 L106.19 227.35 L106.95 228.02 L107.71 228.68 L108.49 229.32 L109.27 229.95 L110.06 230.55 L110.87 231.13 L111.69 231.7 L112.53 232.25 L113.38 232.79 L114.25 233.32 L115.12 233.84 L116.01 234.35 L116.89 234.84 L117.79 235.33 L118.68 235.81 L119.57 236.28 L120.47 236.74 L121.37 237.19 L122.28 237.62 L123.19 238.05 L124.11 238.46 L125.03 238.87 L125.96 239.28 L126.89 239.68 L127.81 240.09 L128.74 240.5 L129.66 240.92 L130.57 241.34 L131.49 241.77 L132.4 242.2 L133.32 242.63 L134.23 243.06 L135.14 243.49 L136.06 243.92 L136.98 244.34 L137.9 244.76 L138.82 245.17 L139.74 245.57 L140.67 245.96 L141.6 246.34 L142.54 246.71 L143.48 247.07 L144.42 247.43 L145.36 247.79 L146.31 248.13 L147.25 248.48 L148.21 248.81 L149.16 249.15 L150.11 249.47 L151.07 249.79 L152.03 250.11 L153 250.42 L153.96 250.72 L154.93 251.01 L155.9 251.3 L155.9 264.4 L154.9 264.21 L153.9 264.02 L152.91 263.81 L151.91 263.59 L150.93 263.35 L149.94 263.11 L148.96 262.86 L147.99 262.6 L147.01 262.33 L146.04 262.05 L145.08 261.76 L144.11 261.47 L143.16 261.17 L142.2 260.87 L141.25 260.55 L140.31 260.2 L139.37 259.83 L138.44 259.45 L137.51 259.04 L136.59 258.63 L135.67 258.2 L134.75 257.78 L133.83 257.35 L132.91 256.92 L131.99 256.5 L131.06 256.09 L130.13 255.7 L129.19 255.32 L128.25 254.96 L127.3 254.61 L126.35 254.27 L125.39 253.93 L124.43 253.59 L123.48 253.25 L122.53 252.91 L121.59 252.55 L120.65 252.18 L119.73 251.78 L118.8 251.38 L117.88 250.96 L116.96 250.53 L116.04 250.1 L115.13 249.65 L114.22 249.19 L113.33 248.71 L112.44 248.23 L111.56 247.73 L110.69 247.22 L109.84 246.7 L108.99 246.17 L108.12 245.62 L107.26 245.06 L106.39 244.48 L105.54 243.89 L104.69 243.28 L103.87 242.66 L103.07 242.02 L102.3 241.36 L101.57 240.68 L100.87 239.99 L100.22 239.27 L99.63 238.52 L99.08 237.72 L98.57 236.86 L98.09 235.97 L97.62 235.06 L97.16 234.13 L96.7 233.2 L96.23 232.28 L95.73 231.39 L95.21 230.53 L94.66 229.68 L94.09 228.85 L93.52 228.01 L92.94 227.18 L92.36 226.35 L91.79 225.52 L91.24 224.67 L90.7 223.82 L90.19 222.94 L89.69 222.06 L89.18 221.18 L88.67 220.32 L88.12 219.47 L87.54 218.63 L86.94 217.79 L86.27 217.04 L85.48 216.4 L84.54 215.82 L83.7 215.61 L83 216.06 L82.36 216.98 L81.78 218.02 L81.25 218.91 L80.77 219.79 L80.31 220.7 L79.89 221.62 L79.48 222.55 L79.09 223.48 L78.73 224.42 L78.38 225.37 L78.03 226.32 L77.68 227.27 L77.33 228.22 L76.97 229.16 L76.61 230.11 L76.26 231.06 L75.92 232.01 L75.61 232.97 L75.32 233.93 L75.04 234.9 L74.78 235.88 L74.52 236.86 L74.27 237.84 L74.03 238.82 L73.78 239.8 L73.53 240.78 L73.28 241.76 L73.04 242.74 L72.8 243.72 L72.56 244.7 L72.32 245.69 L72.09 246.67 L71.85 247.65 L71.61 248.63 L71.37 249.61 L71.12 250.59 L70.87 251.57 L70.61 252.55 L70.36 253.53 L70.11 254.53 L69.87 255.53 L69.63 256.54 L69.39 257.56 L69.14 258.57 L68.89 259.57 L68.62 260.57 L68.34 261.55 L68.04 262.51 L67.72 263.46 L67.38 264.37 L67 265.26 L66.59 266.11 L66.1 266.92 L65.48 267.7 L64.78 268.46 L64.04 269.19 L63.29 269.92 L62.56 270.64 L61.82 271.33 L61.04 272 L60.26 272.67 L59.54 273.37 L58.91 274.12 L58.35 274.93 L57.81 275.79 L57.31 276.68 L56.84 277.6 L56.41 278.53 L56.01 279.46 L55.65 280.39 L55.31 281.33 L54.98 282.28 L54.67 283.24 L54.39 284.22 L54.13 285.2 L53.9 286.19 L53.7 287.2Z" fill="#1fbf4a" fill-opacity="0.3" stroke="none"/>
<path d="M52 286.3 L52.19 285.22 L52.46 284.19 L52.82 283.22 L53.23 282.32 L53.69 281.49 L54.21 280.71 L54.88 279.94 L55.67 279.2 L56.53 278.54 L57.42 277.99 L58.31 277.6 L59.22 277.29 L60.19 277.01 L61.21 276.76 L62.24 276.57 L63.26 276.44 L64.27 276.4 L65.26 276.47 L66.25 276.65 L67.23 276.9 L68.22 277.19 L69.2 277.49 L70.19 277.78 L71.19 278.01 L72.18 278.17 L73.19 278.32 L74.19 278.45 L75.2 278.57 L76.2 278.69 L77.21 278.8 L78.23 278.9 L79.24 278.99 L80.25 279.07 L81.26 279.15 L82.27 279.21 L83.28 279.26 L84.29 279.31 L85.31 279.36 L86.32 279.41 L87.33 279.46 L88.34 279.52 L89.36 279.59 L90.36 279.67 L91.37 279.76 L92.38 279.87 L93.39 279.98 L94.4 280.1 L95.4 280.22 L96.41 280.35 L97.42 280.47 L98.42 280.59 L99.43 280.71 L100.44 280.84 L101.44 280.97 L102.45 281.1 L103.45 281.24 L104.46 281.38 L105.46 281.51 L106.47 281.64 L107.47 281.77 L108.48 281.89 L109.49 282 L110.49 282.11 L111.5 282.21 L112.51 282.3 L113.52 282.39 L114.53 282.48 L115.54 282.56 L116.55 282.64 L117.56 282.72 L118.57 282.8 L119.58 282.88 L120.59 282.96 L121.6 283.04 L122.61 283.13 L123.62 283.21 L124.63 283.3 L125.64 283.39 L126.65 283.48 L127.66 283.57 L128.67 283.65 L129.69 283.73 L130.7 283.81 L131.71 283.88 L132.72 283.95 L133.73 284.02 L134.74 284.09 L135.75 284.17 L136.77 284.24 L137.78 284.31 L138.79 284.38 L139.8 284.44 L140.82 284.49 L141.83 284.53 L142.84 284.57 L143.85 284.59 L144.87 284.6 L145.88 284.6 L146.89 284.58 L147.9 284.56 L148.91 284.52 L149.93 284.47 L150.94 284.42 L151.95 284.35 L152.96 284.28 L153.98 284.19 L154.99 284.1 L156 284 L156 285.6 L154.99 285.73 L153.99 285.86 L152.98 285.98 L151.97 286.1 L150.96 286.21 L149.95 286.31 L148.94 286.4 L147.93 286.48 L146.92 286.54 L145.91 286.58 L144.9 286.6 L143.89 286.62 L142.88 286.63 L141.87 286.64 L140.85 286.65 L139.84 286.66 L138.83 286.67 L137.81 286.68 L136.8 286.69 L135.79 286.69 L134.77 286.7 L133.76 286.7 L132.75 286.7 L131.73 286.7 L130.72 286.7 L129.71 286.69 L128.69 286.68 L127.68 286.67 L126.67 286.65 L125.65 286.64 L124.64 286.63 L123.63 286.61 L122.61 286.6 L121.6 286.59 L120.59 286.59 L119.58 286.58 L118.56 286.57 L117.55 286.56 L116.54 286.56 L115.52 286.55 L114.51 286.54 L113.5 286.53 L112.48 286.52 L111.47 286.51 L110.46 286.5 L109.45 286.49 L108.43 286.47 L107.42 286.45 L106.41 286.43 L105.39 286.4 L104.38 286.38 L103.37 286.35 L102.36 286.32 L101.34 286.29 L100.33 286.26 L99.32 286.23 L98.31 286.19 L97.29 286.16 L96.28 286.11 L95.27 286.07 L94.26 286.02 L93.25 285.97 L92.23 285.92 L91.22 285.87 L90.21 285.83 L89.2 285.79 L88.18 285.75 L87.17 285.72 L86.16 285.69 L85.14 285.67 L84.13 285.64 L83.12 285.6 L82.11 285.57 L81.1 285.52 L80.09 285.47 L79.08 285.4 L78.07 285.31 L77.06 285.2 L76.05 285.09 L75.05 284.97 L74.04 284.85 L73.03 284.74 L72.02 284.63 L71.01 284.53 L70.01 284.43 L69 284.33 L67.99 284.22 L66.98 284.13 L65.97 284.04 L64.96 283.95 L63.95 283.88 L62.94 283.81 L61.93 283.75 L60.91 283.68 L59.9 283.63 L58.89 283.61 L57.88 283.61 L56.82 283.71 L55.75 283.89 L54.76 284.15 L53.89 284.46 L53.17 284.96 L52.53 285.8 L52 286.8Z" fill="#e8408f" fill-opacity="0.3" stroke="none"/>
<path d="M17.4 287.4 L18.41 287.4 L19.42 287.4 L20.43 287.4 L21.43 287.4 L22.44 287.4 L23.45 287.4 L24.46 287.4 L25.47 287.4 L26.48 287.4 L27.49 287.4 L28.49 287.4 L29.5 287.4 L30.51 287.4 L31.52 287.4 L32.53 287.4 L33.54 287.4 L34.55 287.4 L35.55 287.4 L36.56 287.4 L37.57 287.4 L38.58 287.4 L39.59 287.4 L40.62 287.4 L41.75 287.4 L42.96 287.4 L44.22 287.39 L45.51 287.39 L46.79 287.38 L48.03 287.38 L49.21 287.37 L50.29 287.36 L51.25 287.35 L52.06 287.34 L52.68 287.32 L53.09 287.31 L53.28 287.22 L53.41 286.7 L53.52 285.8 L53.6 284.64 L53.68 283.34 L53.76 282.02 L53.85 280.8 L53.96 279.77 L54.07 278.77 L54.18 277.77 L54.29 276.76 L54.41 275.76 L54.53 274.76 L54.66 273.76 L54.79 272.76 L54.93 271.76 L55.09 270.77 L55.25 269.77 L55.42 268.78 L55.6 267.78 L55.78 266.79 L55.97 265.8 L56.16 264.81 L56.36 263.82 L56.55 262.83 L56.75 261.84 L56.95 260.86 L57.16 259.87 L57.37 258.88 L57.59 257.9 L57.81 256.91 L58.03 255.93 L58.25 254.94 L58.47 253.96 L58.7 252.98 L58.92 251.99 L59.15 251.01 L59.38 250.03 L59.61 249.05 L59.84 248.06 L60.07 247.08 L60.3 246.1 L60.54 245.12 L60.78 244.14 L61.02 243.16 L61.26 242.18 L61.49 241.2 L61.73 240.22 L61.96 239.24 L62.19 238.26 L62.41 237.27 L62.64 236.29 L62.86 235.3 L63.08 234.32 L63.31 233.34 L63.54 232.36 L63.78 231.38 L64.03 230.4 L64.28 229.42 L64.54 228.45 L64.81 227.48 L65.09 226.51 L65.36 225.54 L65.64 224.57 L65.93 223.6 L66.21 222.63 L66.49 221.66 L66.77 220.7 L67.05 219.73 L67.32 218.75 L67.59 217.78 L67.86 216.8 L68.12 215.83 L68.4 214.86 L68.67 213.89 L68.96 212.92 L69.26 211.96 L69.56 211 L69.88 210.05 L70.21 209.09 L70.55 208.13 L70.89 207.16 L71.25 206.19 L71.62 205.23 L72.01 204.29 L72.42 203.36 L72.86 202.47 L73.33 201.61 L73.84 200.78 L74.4 199.87 L75.03 198.9 L75.71 197.96 L76.44 197.14 L77.22 196.53 L78.03 196.22 L78.91 196.24 L79.92 196.41 L80.96 196.65 L81.91 196.93 L82.83 197.35 L83.72 197.86 L84.58 198.43 L85.39 199.01 L86.17 199.62 L86.93 200.28 L87.67 200.98 L88.39 201.7 L89.09 202.45 L89.77 203.22 L90.43 203.99 L91.07 204.76 L91.68 205.54 L92.28 206.35 L92.85 207.17 L93.4 208.01 L93.95 208.87 L94.48 209.73 L95.02 210.59 L95.56 211.45 L96.1 212.31 L96.66 213.15 L97.23 213.98 L97.81 214.81 L98.39 215.64 L98.97 216.46 L99.56 217.28 L100.15 218.1 L100.74 218.92 L101.35 219.73 L101.96 220.53 L102.58 221.32 L103.21 222.11 L103.84 222.89 L104.49 223.66 L105.15 224.43 L105.81 225.19 L106.48 225.95 L107.17 226.69 L107.86 227.43 L108.56 228.15 L109.27 228.86 L109.98 229.57 L110.71 230.27 L111.45 230.96 L112.21 231.64 L112.97 232.3 L113.74 232.95 L114.53 233.58 L115.32 234.19 L116.14 234.77 L116.99 235.32 L117.85 235.86 L118.7 236.4 L119.54 236.96 L120.36 237.55 L121.16 238.17 L121.95 238.8 L122.76 239.4 L123.59 239.96 L124.45 240.49 L125.32 241 L126.2 241.49 L127.1 241.97 L128 242.42 L128.9 242.87 L129.81 243.29 L130.73 243.69 L131.66 244.08 L132.6 244.45 L133.54 244.81 L134.49 245.17 L135.44 245.53 L136.38 245.88 L137.33 246.24 L138.26 246.61 L139.2 247 L140.12 247.4 L141.04 247.81 L141.96 248.22 L142.88 248.64 L143.8 249.07 L144.71 249.49 L145.63 249.9 L146.55 250.31 L147.48 250.7 L148.41 251.1 L149.34 251.48 L150.27 251.87 L151.21 252.25 L152.14 252.63 L153.08 253 L154.02 253.37 L154.96 253.74 L155.9 254.1" fill="none" stroke="#000000" stroke-width="1.35" stroke-linejoin="round" stroke-linecap="butt"/>
<path d="M17.4 287.4 L18.41 287.4 L19.41 287.4 L20.42 287.4 L21.43 287.4 L22.43 287.4 L23.44 287.4 L24.44 287.4 L25.45 287.4 L26.46 287.4 L27.46 287.4 L28.47 287.4 L29.48 287.4 L30.48 287.4 L31.49 287.4 L32.5 287.4 L33.5 287.4 L34.51 287.4 L35.51 287.4 L36.52 287.4 L37.53 287.4 L38.53 287.4 L39.54 287.4 L40.56 287.4 L41.68 287.4 L42.88 287.4 L44.13 287.39 L45.41 287.39 L46.69 287.38 L47.93 287.38 L49.11 287.37 L50.21 287.36 L51.2 287.35 L52.04 287.34 L52.71 287.33 L53.19 287.31 L53.44 287.28 L53.59 286.91 L53.72 286.13 L53.82 285.06 L53.9 283.81 L53.99 282.48 L54.08 281.2 L54.19 280.07 L54.32 279.07 L54.44 278.07 L54.58 277.07 L54.72 276.07 L54.86 275.08 L55.02 274.08 L55.19 273.09 L55.38 272.11 L55.59 271.13 L55.84 270.16 L56.1 269.19 L56.38 268.22 L56.67 267.25 L56.97 266.29 L57.26 265.32 L57.55 264.36 L57.82 263.39 L58.08 262.41 L58.34 261.44 L58.6 260.47 L58.86 259.5 L59.11 258.52 L59.37 257.55 L59.62 256.58 L59.88 255.6 L60.13 254.63 L60.38 253.65 L60.63 252.68 L60.87 251.7 L61.12 250.73 L61.37 249.75 L61.61 248.77 L61.85 247.8 L62.09 246.82 L62.32 245.84 L62.55 244.86 L62.77 243.88 L62.99 242.89 L63.22 241.91 L63.44 240.93 L63.66 239.95 L63.89 238.97 L64.12 237.99 L64.36 237.01 L64.6 236.04 L64.85 235.06 L65.11 234.09 L65.37 233.12 L65.64 232.15 L65.91 231.18 L66.19 230.21 L66.47 229.24 L66.76 228.27 L67.05 227.31 L67.36 226.35 L67.67 225.39 L68 224.44 L68.34 223.5 L68.69 222.56 L69.05 221.62 L69.44 220.69 L69.83 219.76 L70.24 218.84 L70.67 217.92 L71.1 217.02 L71.54 216.11 L71.99 215.2 L72.44 214.25 L72.9 213.31 L73.4 212.4 L73.94 211.58 L74.54 210.86 L75.24 210.2 L76.06 209.52 L76.96 208.9 L77.91 208.44 L78.86 208.21 L79.82 208.25 L80.83 208.46 L81.81 208.74 L82.72 209.1 L83.59 209.63 L84.42 210.25 L85.2 210.88 L85.94 211.54 L86.64 212.24 L87.31 212.98 L87.97 213.75 L88.61 214.54 L89.25 215.34 L89.88 216.14 L90.53 216.92 L91.18 217.69 L91.84 218.45 L92.51 219.2 L93.18 219.96 L93.85 220.71 L94.51 221.47 L95.17 222.23 L95.82 223 L96.46 223.78 L97.08 224.57 L97.67 225.38 L98.23 226.22 L98.79 227.07 L99.36 227.9 L99.96 228.7 L100.6 229.46 L101.28 230.19 L101.99 230.9 L102.72 231.6 L103.47 232.28 L104.24 232.94 L105.01 233.6 L105.78 234.25 L106.55 234.89 L107.33 235.53 L108.12 236.16 L108.92 236.77 L109.73 237.38 L110.54 237.97 L111.37 238.55 L112.2 239.1 L113.05 239.64 L113.9 240.17 L114.77 240.68 L115.64 241.18 L116.53 241.68 L117.41 242.16 L118.3 242.63 L119.2 243.09 L120.09 243.55 L120.99 244 L121.9 244.44 L122.8 244.87 L123.72 245.29 L124.63 245.71 L125.55 246.13 L126.47 246.53 L127.4 246.94 L128.32 247.34 L129.25 247.73 L130.17 248.13 L131.1 248.52 L132.03 248.91 L132.96 249.29 L133.89 249.67 L134.83 250.05 L135.76 250.42 L136.7 250.78 L137.64 251.14 L138.59 251.48 L139.53 251.82 L140.48 252.14 L141.44 252.46 L142.4 252.77 L143.36 253.08 L144.32 253.38 L145.28 253.67 L146.24 253.97 L147.21 254.26 L148.17 254.56 L149.13 254.85 L150.1 255.13 L151.06 255.42 L152.03 255.7 L152.99 255.98 L153.96 256.26 L154.93 256.53 L155.9 256.8" fill="none" stroke="#5b9bff" stroke-width="1.2" stroke-linejoin="round" stroke-linecap="butt"/>
<path d="M17.4 287.4 L18.41 287.4 L19.42 287.4 L20.42 287.4 L21.43 287.4 L22.44 287.4 L23.45 287.4 L24.45 287.4 L25.46 287.4 L26.47 287.4 L27.48 287.4 L28.48 287.4 L29.49 287.4 L30.5 287.4 L31.51 287.4 L32.51 287.4 L33.52 287.4 L34.53 287.4 L35.54 287.4 L36.54 287.4 L37.55 287.4 L38.56 287.4 L39.57 287.4 L40.59 287.4 L41.71 287.4 L42.89 287.4 L44.13 287.39 L45.39 287.39 L46.65 287.38 L47.87 287.38 L49.05 287.37 L50.14 287.36 L51.13 287.35 L51.99 287.34 L52.7 287.33 L53.22 287.31 L53.54 287.29 L53.75 286.94 L53.92 286.19 L54.06 285.14 L54.18 283.9 L54.3 282.58 L54.43 281.3 L54.57 280.16 L54.74 279.16 L54.9 278.16 L55.06 277.16 L55.23 276.16 L55.41 275.16 L55.61 274.18 L55.83 273.2 L56.07 272.24 L56.37 271.29 L56.72 270.36 L57.12 269.44 L57.55 268.52 L58 267.61 L58.46 266.7 L58.91 265.79 L59.35 264.87 L59.76 263.95 L60.13 263.01 L60.48 262.07 L60.82 261.12 L61.15 260.17 L61.47 259.22 L61.78 258.26 L62.09 257.3 L62.4 256.34 L62.7 255.37 L62.99 254.41 L63.28 253.44 L63.57 252.47 L63.85 251.51 L64.13 250.54 L64.41 249.57 L64.67 248.6 L64.94 247.63 L65.19 246.65 L65.45 245.68 L65.7 244.7 L65.95 243.73 L66.2 242.75 L66.46 241.77 L66.71 240.8 L66.97 239.83 L67.24 238.85 L67.51 237.88 L67.78 236.91 L68.05 235.94 L68.32 234.97 L68.6 234 L68.88 233.04 L69.18 232.07 L69.49 231.12 L69.83 230.16 L70.16 229.21 L70.46 228.25 L70.72 227.28 L70.95 226.3 L71.18 225.32 L71.39 224.34 L71.59 223.35 L71.78 222.36 L71.97 221.37 L72.17 220.38 L72.37 219.39 L72.57 218.4 L72.79 217.41 L73.02 216.43 L73.26 215.45 L73.49 214.46 L73.73 213.45 L73.98 212.45 L74.24 211.46 L74.53 210.49 L74.86 209.56 L75.22 208.67 L75.66 207.75 L76.22 206.73 L76.86 205.73 L77.57 204.91 L78.32 204.4 L79.11 204.34 L80.06 204.74 L80.98 205.29 L81.77 205.88 L82.5 206.59 L83.2 207.35 L83.87 208.1 L84.51 208.87 L85.12 209.66 L85.72 210.47 L86.31 211.3 L86.9 212.12 L87.48 212.95 L88.07 213.77 L88.67 214.58 L89.26 215.39 L89.85 216.21 L90.44 217.03 L91.03 217.84 L91.62 218.66 L92.21 219.48 L92.8 220.3 L93.39 221.12 L93.98 221.93 L94.57 222.75 L95.15 223.58 L95.73 224.41 L96.3 225.24 L96.88 226.08 L97.46 226.9 L98.05 227.72 L98.66 228.53 L99.28 229.31 L99.92 230.08 L100.58 230.82 L101.27 231.54 L101.99 232.25 L102.72 232.95 L103.47 233.63 L104.22 234.31 L104.99 234.97 L105.76 235.63 L106.53 236.27 L107.3 236.92 L108.08 237.56 L108.87 238.19 L109.67 238.8 L110.48 239.41 L111.3 239.99 L112.13 240.56 L112.97 241.1 L113.83 241.63 L114.7 242.15 L115.57 242.65 L116.45 243.14 L117.34 243.62 L118.24 244.09 L119.13 244.56 L120.03 245.02 L120.93 245.47 L121.83 245.91 L122.74 246.34 L123.66 246.77 L124.57 247.18 L125.49 247.6 L126.41 248.01 L127.34 248.41 L128.26 248.81 L129.19 249.21 L130.12 249.6 L131.04 250 L131.97 250.39 L132.91 250.77 L133.84 251.15 L134.77 251.53 L135.71 251.9 L136.65 252.26 L137.6 252.62 L138.54 252.96 L139.49 253.3 L140.44 253.63 L141.4 253.95 L142.35 254.26 L143.31 254.57 L144.28 254.87 L145.24 255.17 L146.2 255.46 L147.17 255.75 L148.13 256.04 L149.1 256.32 L150.07 256.6 L151.04 256.88 L152.01 257.15 L152.98 257.42 L153.95 257.68 L154.93 257.94 L155.9 258.2" fill="none" stroke="#1fbf4a" stroke-width="1.3" stroke-linejoin="round" stroke-linecap="butt"/>
<path d="M17.4 287.4 L18.42 287.4 L19.44 287.4 L20.46 287.4 L21.48 287.4 L22.5 287.4 L23.52 287.4 L24.53 287.4 L25.55 287.4 L26.56 287.4 L27.58 287.4 L28.59 287.4 L29.6 287.4 L30.61 287.4 L31.62 287.4 L32.63 287.4 L33.64 287.4 L34.65 287.4 L35.66 287.4 L36.66 287.4 L37.67 287.4 L38.68 287.36 L39.68 287.19 L40.68 286.99 L41.68 286.83 L42.69 286.77 L43.71 286.73 L44.74 286.71 L45.77 286.69 L46.8 286.68 L47.83 286.66 L48.85 286.65 L49.86 286.62 L50.86 286.58 L51.83 286.53 L52.83 286.36 L53.56 285.79 L53.92 284.86 L54.2 283.75 L54.57 282.84 L55.2 282.15 L56.05 281.51 L57.03 280.98 L58.02 280.65 L58.97 280.52 L59.95 280.41 L60.97 280.32 L62.01 280.26 L63.04 280.22 L64.06 280.2 L65.07 280.23 L66.08 280.32 L67.08 280.47 L68.08 280.64 L69.08 280.83 L70.08 281.03 L71.08 281.21 L72.09 281.36 L73.09 281.51 L74.09 281.67 L75.1 281.83 L76.1 281.99 L77.1 282.14 L78.11 282.27 L79.11 282.38 L80.12 282.47 L81.13 282.53 L82.14 282.57 L83.15 282.6 L84.17 282.63 L85.18 282.66 L86.19 282.68 L87.21 282.71 L88.22 282.75 L89.23 282.79 L90.25 282.84 L91.26 282.92 L92.26 283 L93.27 283.1 L94.28 283.2 L95.29 283.31 L96.3 283.41 L97.31 283.5 L98.32 283.59 L99.33 283.66 L100.34 283.73 L101.35 283.8 L102.36 283.87 L103.37 283.94 L104.39 284 L105.4 284.06 L106.41 284.12 L107.42 284.17 L108.43 284.22 L109.45 284.26 L110.46 284.3 L111.47 284.34 L112.48 284.36 L113.5 284.39 L114.51 284.41 L115.52 284.43 L116.54 284.46 L117.55 284.48 L118.56 284.5 L119.58 284.52 L120.59 284.55 L121.6 284.58 L122.62 284.61 L123.63 284.65 L124.64 284.7 L125.65 284.75 L126.66 284.81 L127.68 284.87 L128.69 284.93 L129.7 284.99 L130.71 285.04 L131.72 285.09 L132.74 285.13 L133.75 285.18 L134.76 285.23 L135.77 285.28 L136.79 285.33 L137.8 285.36 L138.81 285.39 L139.83 285.4 L140.84 285.4 L141.85 285.4 L142.87 285.4 L143.88 285.4 L144.9 285.4 L145.91 285.4 L146.93 285.4 L147.94 285.4 L148.95 285.4 L149.96 285.4 L150.97 285.37 L151.98 285.29 L152.98 285.17 L153.99 285.03 L155 284.86 L156 284.7" fill="none" stroke="#e8408f" stroke-width="1.2" stroke-linejoin="round" stroke-linecap="butt"/>
</g>
<rect x="17.4" y="157.25" width="148.8" height="130.35" fill="none" stroke="#2b2b2b" stroke-width="1.0"/>
<line x1="17.4" y1="287.6" x2="17.4" y2="289.4" stroke="#2b2b2b" stroke-width="0.7"/>
<text x="17.4" y="295.8" font-size="6.35" text-anchor="middle" font-weight="normal" font-style="normal" fill="#2e2e2e" stroke="#2e2e2e" stroke-width="0.22">0</text>
<line x1="54.6" y1="287.6" x2="54.6" y2="289.4" stroke="#2b2b2b" stroke-width="0.7"/>
<text x="54.6" y="295.8" font-size="6.35" text-anchor="middle" font-weight="normal" font-style="normal" fill="#2e2e2e" stroke="#2e2e2e" stroke-width="0.22">1</text>
<line x1="91.8" y1="287.6" x2="91.8" y2="289.4" stroke="#2b2b2b" stroke-width="0.7"/>
<text x="91.8" y="295.8" font-size="6.35" text-anchor="middle" font-weight="normal" font-style="normal" fill="#2e2e2e" stroke="#2e2e2e" stroke-width="0.22">2</text>
<line x1="129" y1="287.6" x2="129" y2="289.4" stroke="#2b2b2b" stroke-width="0.7"/>
<text x="129" y="295.8" font-size="6.35" text-anchor="middle" font-weight="normal" font-style="normal" fill="#2e2e2e" stroke="#2e2e2e" stroke-width="0.22">3</text>
<line x1="166.2" y1="287.6" x2="166.2" y2="289.4" stroke="#2b2b2b" stroke-width="0.7"/>
<text x="166.2" y="295.8" font-size="6.35" text-anchor="middle" font-weight="normal" font-style="normal" fill="#2e2e2e" stroke="#2e2e2e" stroke-width="0.22">4</text>
<line x1="15.6" y1="287.6" x2="17.4" y2="287.6" stroke="#2b2b2b" stroke-width="0.7"/>
<text x="14" y="290.2" font-size="6.35" text-anchor="end" font-weight="normal" font-style="normal" fill="#2e2e2e" letter-spacing="-0.22" stroke="#2e2e2e" stroke-width="0.22">0</text>
<line x1="15.6" y1="255.06" x2="17.4" y2="255.06" stroke="#2b2b2b" stroke-width="0.7"/>
<text x="14" y="257.66" font-size="6.35" text-anchor="end" font-weight="normal" font-style="normal" fill="#2e2e2e" letter-spacing="-0.22" stroke="#2e2e2e" stroke-width="0.22">1</text>
<line x1="15.6" y1="222.52" x2="17.4" y2="222.52" stroke="#2b2b2b" stroke-width="0.7"/>
<text x="14" y="225.12" font-size="6.35" text-anchor="end" font-weight="normal" font-style="normal" fill="#2e2e2e" letter-spacing="-0.22" stroke="#2e2e2e" stroke-width="0.22">2</text>
<line x1="15.6" y1="189.98" x2="17.4" y2="189.98" stroke="#2b2b2b" stroke-width="0.7"/>
<text x="14" y="192.58" font-size="6.35" text-anchor="end" font-weight="normal" font-style="normal" fill="#2e2e2e" letter-spacing="-0.22" stroke="#2e2e2e" stroke-width="0.22">3</text>
<line x1="15.6" y1="157.44" x2="17.4" y2="157.44" stroke="#2b2b2b" stroke-width="0.7"/>
<text x="14" y="160.04" font-size="6.35" text-anchor="end" font-weight="normal" font-style="normal" fill="#2e2e2e" letter-spacing="-0.22" stroke="#2e2e2e" stroke-width="0.22">4</text>
<text x="0.8" y="163.7" font-size="8.3" text-anchor="start" font-weight="bold" font-style="normal" fill="#111111" stroke="#111111" stroke-width="0.22">E</text>
<text x="6.2" y="222.43" font-size="7.45" text-anchor="middle" font-weight="normal" font-style="normal" fill="#1a1a1a" transform="rotate(-90 6.2 222.43)" stroke="#1a1a1a" stroke-width="0.12">Current (mA)</text>
<text x="91.8" y="304.2" font-size="7.45" text-anchor="middle" font-weight="normal" font-style="normal" fill="#1a1a1a" stroke="#1a1a1a" stroke-width="0.12">Time (days)</text>
<rect x="201.8" y="157.25" width="136.7" height="130.35" fill="none" stroke="#2b2b2b" stroke-width="1.0"/>
<line x1="201.8" y1="287.6" x2="201.8" y2="289.4" stroke="#2b2b2b" stroke-width="0.7"/>
<text x="201.8" y="295.8" font-size="6.35" text-anchor="middle" font-weight="normal" font-style="normal" fill="#2e2e2e" stroke="#2e2e2e" stroke-width="0.22">0</text>
<line x1="235.98" y1="287.6" x2="235.98" y2="289.4" stroke="#2b2b2b" stroke-width="0.7"/>
<text x="235.98" y="295.8" font-size="6.35" text-anchor="middle" font-weight="normal" font-style="normal" fill="#2e2e2e" stroke="#2e2e2e" stroke-width="0.22">1</text>
<line x1="270.16" y1="287.6" x2="270.16" y2="289.4" stroke="#2b2b2b" stroke-width="0.7"/>
<text x="270.16" y="295.8" font-size="6.35" text-anchor="middle" font-weight="normal" font-style="normal" fill="#2e2e2e" stroke="#2e2e2e" stroke-width="0.22">2</text>
<line x1="304.34" y1="287.6" x2="304.34" y2="289.4" stroke="#2b2b2b" stroke-width="0.7"/>
<text x="304.34" y="295.8" font-size="6.35" text-anchor="middle" font-weight="normal" font-style="normal" fill="#2e2e2e" stroke="#2e2e2e" stroke-width="0.22">3</text>
<line x1="338.52" y1="287.6" x2="338.52" y2="289.4" stroke="#2b2b2b" stroke-width="0.7"/>
<text x="338.52" y="295.8" font-size="6.35" text-anchor="middle" font-weight="normal" font-style="normal" fill="#2e2e2e" stroke="#2e2e2e" stroke-width="0.22">4</text>
<line x1="200" y1="281.5" x2="201.8" y2="281.5" stroke="#2b2b2b" stroke-width="0.7"/>
<text x="198.4" y="284.1" font-size="6.35" text-anchor="end" font-weight="normal" font-style="normal" fill="#2e2e2e" letter-spacing="-0.22" stroke="#2e2e2e" stroke-width="0.22">0.000</text>
<line x1="200" y1="250.44" x2="201.8" y2="250.44" stroke="#2b2b2b" stroke-width="0.7"/>
<text x="198.4" y="253.04" font-size="6.35" text-anchor="end" font-weight="normal" font-style="normal" fill="#2e2e2e" letter-spacing="-0.22" stroke="#2e2e2e" stroke-width="0.22">0.025</text>
<line x1="200" y1="219.38" x2="201.8" y2="219.38" stroke="#2b2b2b" stroke-width="0.7"/>
<text x="198.4" y="221.97" font-size="6.35" text-anchor="end" font-weight="normal" font-style="normal" fill="#2e2e2e" letter-spacing="-0.22" stroke="#2e2e2e" stroke-width="0.22">0.050</text>
<line x1="200" y1="188.31" x2="201.8" y2="188.31" stroke="#2b2b2b" stroke-width="0.7"/>
<text x="198.4" y="190.91" font-size="6.35" text-anchor="end" font-weight="normal" font-style="normal" fill="#2e2e2e" letter-spacing="-0.22" stroke="#2e2e2e" stroke-width="0.22">0.075</text>
<line x1="200" y1="157.25" x2="201.8" y2="157.25" stroke="#2b2b2b" stroke-width="0.7"/>
<text x="198.4" y="159.85" font-size="6.35" text-anchor="end" font-weight="normal" font-style="normal" fill="#2e2e2e" letter-spacing="-0.22" stroke="#2e2e2e" stroke-width="0.22">0.100</text>
<text x="172.6" y="163.7" font-size="8.3" text-anchor="start" font-weight="bold" font-style="normal" fill="#111111" stroke="#111111" stroke-width="0.22">F</text>
<text x="178.5" y="222.43" font-size="7.45" text-anchor="middle" font-weight="normal" font-style="normal" fill="#1a1a1a" transform="rotate(-90 178.5 222.43)" stroke="#1a1a1a" stroke-width="0.12">OD<tspan font-size="5.6" dy="1.6">600</tspan></text>
<text x="270.15" y="304.2" font-size="7.45" text-anchor="middle" font-weight="normal" font-style="normal" fill="#1a1a1a" stroke="#1a1a1a" stroke-width="0.12">Time (days)</text>
<path d="M261.62 275.66 V281.87 M259.92 275.66 H263.31 M259.92 281.87 H263.31" stroke="#5a5a5a" stroke-width="0.5" fill="none"/>
<path d="M261.62 251.31 V263.73 M259.92 251.31 H263.31 M259.92 263.73 H263.31" stroke="#5a5a5a" stroke-width="0.5" fill="none"/>
<path d="M261.62 242.36 V267.96 M259.92 242.36 H263.31 M259.92 267.96 H263.31" stroke="#5a5a5a" stroke-width="0.5" fill="none"/>
<path d="M261.62 242.11 V254.79 M259.92 242.11 H263.31 M259.92 254.79 H263.31" stroke="#5a5a5a" stroke-width="0.5" fill="none"/>
<path d="M297.85 257.52 V277.65 M296.15 257.52 H299.55 M296.15 277.65 H299.55" stroke="#5a5a5a" stroke-width="0.5" fill="none"/>
<path d="M297.85 217.39 V231.55 M296.15 217.39 H299.55 M296.15 231.55 H299.55" stroke="#5a5a5a" stroke-width="0.5" fill="none"/>
<path d="M297.85 206.33 V221.98 M296.15 206.33 H299.55 M296.15 221.98 H299.55" stroke="#5a5a5a" stroke-width="0.5" fill="none"/>
<path d="M297.85 190.18 V215.52 M296.15 190.18 H299.55 M296.15 215.52 H299.55" stroke="#5a5a5a" stroke-width="0.5" fill="none"/>
<path d="M329.29 195.52 V239.01 M327.59 195.52 H330.99 M327.59 239.01 H330.99" stroke="#5a5a5a" stroke-width="0.5" fill="none"/>
<path d="M329.29 185.58 V204.22 M327.59 185.58 H330.99 M327.59 204.22 H330.99" stroke="#5a5a5a" stroke-width="0.5" fill="none"/>
<path d="M329.29 192.04 V218.13 M327.59 192.04 H330.99 M327.59 218.13 H330.99" stroke="#5a5a5a" stroke-width="0.5" fill="none"/>
<circle cx="228.46" cy="271.56" r="1.2" fill="#000000"/>
<circle cx="261.62" cy="278.77" r="1.2" fill="#e8408f"/>
<circle cx="261.62" cy="257.52" r="1.2" fill="#5b9bff"/>
<circle cx="261.62" cy="255.16" r="1.2" fill="#1fbf4a"/>
<circle cx="261.62" cy="248.45" r="1.2" fill="#000000"/>
<circle cx="297.85" cy="267.58" r="1.2" fill="#e8408f"/>
<circle cx="297.85" cy="224.47" r="1.2" fill="#5b9bff"/>
<circle cx="297.85" cy="214.16" r="1.2" fill="#1fbf4a"/>
<circle cx="297.85" cy="202.85" r="1.2" fill="#000000"/>
<circle cx="329.29" cy="281.5" r="1.2" fill="#e8408f"/>
<circle cx="329.29" cy="217.26" r="1.2" fill="#5b9bff"/>
<circle cx="329.29" cy="194.9" r="1.2" fill="#1fbf4a"/>
<circle cx="329.29" cy="205.09" r="1.2" fill="#000000"/>
<rect x="365.6" y="157.25" width="145.1" height="130.35" fill="none" stroke="#2b2b2b" stroke-width="1.0"/>
<line x1="365.6" y1="287.6" x2="365.6" y2="289.4" stroke="#2b2b2b" stroke-width="0.7"/>
<text x="365.6" y="295.8" font-size="6.35" text-anchor="middle" font-weight="normal" font-style="normal" fill="#2e2e2e" stroke="#2e2e2e" stroke-width="0.22">0</text>
<line x1="401.88" y1="287.6" x2="401.88" y2="289.4" stroke="#2b2b2b" stroke-width="0.7"/>
<text x="401.88" y="295.8" font-size="6.35" text-anchor="middle" font-weight="normal" font-style="normal" fill="#2e2e2e" stroke="#2e2e2e" stroke-width="0.22">1</text>
<line x1="438.16" y1="287.6" x2="438.16" y2="289.4" stroke="#2b2b2b" stroke-width="0.7"/>
<text x="438.16" y="295.8" font-size="6.35" text-anchor="middle" font-weight="normal" font-style="normal" fill="#2e2e2e" stroke="#2e2e2e" stroke-width="0.22">2</text>
<line x1="474.44" y1="287.6" x2="474.44" y2="289.4" stroke="#2b2b2b" stroke-width="0.7"/>
<text x="474.44" y="295.8" font-size="6.35" text-anchor="middle" font-weight="normal" font-style="normal" fill="#2e2e2e" stroke="#2e2e2e" stroke-width="0.22">3</text>
<line x1="510.72" y1="287.6" x2="510.72" y2="289.4" stroke="#2b2b2b" stroke-width="0.7"/>
<text x="510.72" y="295.8" font-size="6.35" text-anchor="middle" font-weight="normal" font-style="normal" fill="#2e2e2e" stroke="#2e2e2e" stroke-width="0.22">4</text>
<line x1="363.8" y1="285.6" x2="365.6" y2="285.6" stroke="#2b2b2b" stroke-width="0.7"/>
<text x="362.2" y="288.2" font-size="6.35" text-anchor="end" font-weight="normal" font-style="normal" fill="#2e2e2e" letter-spacing="-0.22" stroke="#2e2e2e" stroke-width="0.22">0</text>
<line x1="363.8" y1="259.93" x2="365.6" y2="259.93" stroke="#2b2b2b" stroke-width="0.7"/>
<text x="362.2" y="262.53" font-size="6.35" text-anchor="end" font-weight="normal" font-style="normal" fill="#2e2e2e" letter-spacing="-0.22" stroke="#2e2e2e" stroke-width="0.22">5</text>
<line x1="363.8" y1="234.26" x2="365.6" y2="234.26" stroke="#2b2b2b" stroke-width="0.7"/>
<text x="362.2" y="236.86" font-size="6.35" text-anchor="end" font-weight="normal" font-style="normal" fill="#2e2e2e" letter-spacing="-0.22" stroke="#2e2e2e" stroke-width="0.22">10</text>
<line x1="363.8" y1="208.59" x2="365.6" y2="208.59" stroke="#2b2b2b" stroke-width="0.7"/>
<text x="362.2" y="211.19" font-size="6.35" text-anchor="end" font-weight="normal" font-style="normal" fill="#2e2e2e" letter-spacing="-0.22" stroke="#2e2e2e" stroke-width="0.22">15</text>
<line x1="363.8" y1="182.92" x2="365.6" y2="182.92" stroke="#2b2b2b" stroke-width="0.7"/>
<text x="362.2" y="185.52" font-size="6.35" text-anchor="end" font-weight="normal" font-style="normal" fill="#2e2e2e" letter-spacing="-0.22" stroke="#2e2e2e" stroke-width="0.22">20</text>
<line x1="363.8" y1="157.25" x2="365.6" y2="157.25" stroke="#2b2b2b" stroke-width="0.7"/>
<text x="362.2" y="159.85" font-size="6.35" text-anchor="end" font-weight="normal" font-style="normal" fill="#2e2e2e" letter-spacing="-0.22" stroke="#2e2e2e" stroke-width="0.22">25</text>
<text x="345.2" y="163.7" font-size="8.3" text-anchor="start" font-weight="bold" font-style="normal" fill="#111111" stroke="#111111" stroke-width="0.22">G</text>
<text x="351.5" y="222.43" font-size="7.45" text-anchor="middle" font-weight="normal" font-style="normal" fill="#1a1a1a" transform="rotate(-90 351.5 222.43)" stroke="#1a1a1a" stroke-width="0.12">[Lactate] (mM)</text>
<text x="438.15" y="304.2" font-size="7.45" text-anchor="middle" font-weight="normal" font-style="normal" fill="#1a1a1a" stroke="#1a1a1a" stroke-width="0.12">Time (days)</text>
<path d="M393.9 183.95 V187.03 M392.2 183.95 H395.6 M392.2 187.03 H395.6" stroke="#5a5a5a" stroke-width="0.5" fill="none"/>
<path d="M393.9 174.86 V203.3 M392.2 174.86 H395.6 M392.2 203.3 H395.6" stroke="#5a5a5a" stroke-width="0.5" fill="none"/>
<path d="M393.9 175.73 V178.81 M392.2 175.73 H395.6 M392.2 178.81 H395.6" stroke="#5a5a5a" stroke-width="0.5" fill="none"/>
<path d="M393.9 182.15 V186.26 M392.2 182.15 H395.6 M392.2 186.26 H395.6" stroke="#5a5a5a" stroke-width="0.5" fill="none"/>
<path d="M429.09 179.69 V184.31 M427.39 179.69 H430.79 M427.39 184.31 H430.79" stroke="#5a5a5a" stroke-width="0.5" fill="none"/>
<path d="M429.09 186 V195.24 M427.39 186 H430.79 M427.39 195.24 H430.79" stroke="#5a5a5a" stroke-width="0.5" fill="none"/>
<path d="M429.09 183.18 V194.98 M427.39 183.18 H430.79 M427.39 194.98 H430.79" stroke="#5a5a5a" stroke-width="0.5" fill="none"/>
<path d="M429.09 186.26 V197.04 M427.39 186.26 H430.79 M427.39 197.04 H430.79" stroke="#5a5a5a" stroke-width="0.5" fill="none"/>
<path d="M467.55 177.38 V185.59 M465.85 177.38 H469.25 M465.85 185.59 H469.25" stroke="#5a5a5a" stroke-width="0.5" fill="none"/>
<path d="M467.55 200.32 V217.27 M465.85 200.32 H469.25 M465.85 217.27 H469.25" stroke="#5a5a5a" stroke-width="0.5" fill="none"/>
<path d="M467.55 198.42 V213.83 M465.85 198.42 H469.25 M465.85 213.83 H469.25" stroke="#5a5a5a" stroke-width="0.5" fill="none"/>
<path d="M467.55 207 V219.01 M465.85 207 H469.25 M465.85 219.01 H469.25" stroke="#5a5a5a" stroke-width="0.5" fill="none"/>
<path d="M500.92 178.81 V188.36 M499.22 178.81 H502.62 M499.22 188.36 H502.62" stroke="#5a5a5a" stroke-width="0.5" fill="none"/>
<path d="M500.92 207.31 V225.48 M499.22 207.31 H502.62 M499.22 225.48 H502.62" stroke="#5a5a5a" stroke-width="0.5" fill="none"/>
<path d="M500.92 205.51 V221.12 M499.22 205.51 H502.62 M499.22 221.12 H502.62" stroke="#5a5a5a" stroke-width="0.5" fill="none"/>
<path d="M500.92 214.8 V227.02 M499.22 214.8 H502.62 M499.22 227.02 H502.62" stroke="#5a5a5a" stroke-width="0.5" fill="none"/>
<circle cx="393.9" cy="185.49" r="1.2" fill="#e8408f"/>
<circle cx="393.9" cy="189.08" r="1.2" fill="#5b9bff"/>
<circle cx="393.9" cy="177.27" r="1.2" fill="#1fbf4a"/>
<circle cx="393.9" cy="184.2" r="1.2" fill="#000000"/>
<circle cx="429.09" cy="182" r="1.2" fill="#e8408f"/>
<circle cx="429.09" cy="190.62" r="1.2" fill="#5b9bff"/>
<circle cx="429.09" cy="189.08" r="1.2" fill="#1fbf4a"/>
<circle cx="429.09" cy="191.65" r="1.2" fill="#000000"/>
<circle cx="467.55" cy="181.48" r="1.2" fill="#e8408f"/>
<circle cx="467.55" cy="208.8" r="1.2" fill="#5b9bff"/>
<circle cx="467.55" cy="206.13" r="1.2" fill="#1fbf4a"/>
<circle cx="467.55" cy="213.01" r="1.2" fill="#000000"/>
<circle cx="500.92" cy="183.59" r="1.2" fill="#e8408f"/>
<circle cx="500.92" cy="216.39" r="1.2" fill="#5b9bff"/>
<circle cx="500.92" cy="213.31" r="1.2" fill="#1fbf4a"/>
<circle cx="500.92" cy="220.91" r="1.2" fill="#000000"/>
<rect x="543.6" y="157.25" width="139.7" height="130.35" fill="none" stroke="#2b2b2b" stroke-width="1.0"/>
<line x1="543.6" y1="287.6" x2="543.6" y2="289.4" stroke="#2b2b2b" stroke-width="0.7"/>
<text x="543.6" y="295.8" font-size="6.35" text-anchor="middle" font-weight="normal" font-style="normal" fill="#2e2e2e" stroke="#2e2e2e" stroke-width="0.22">0</text>
<line x1="578.53" y1="287.6" x2="578.53" y2="289.4" stroke="#2b2b2b" stroke-width="0.7"/>
<text x="578.53" y="295.8" font-size="6.35" text-anchor="middle" font-weight="normal" font-style="normal" fill="#2e2e2e" stroke="#2e2e2e" stroke-width="0.22">1</text>
<line x1="613.46" y1="287.6" x2="613.46" y2="289.4" stroke="#2b2b2b" stroke-width="0.7"/>
<text x="613.46" y="295.8" font-size="6.35" text-anchor="middle" font-weight="normal" font-style="normal" fill="#2e2e2e" stroke="#2e2e2e" stroke-width="0.22">2</text>
<line x1="648.39" y1="287.6" x2="648.39" y2="289.4" stroke="#2b2b2b" stroke-width="0.7"/>
<text x="648.39" y="295.8" font-size="6.35" text-anchor="middle" font-weight="normal" font-style="normal" fill="#2e2e2e" stroke="#2e2e2e" stroke-width="0.22">3</text>
<line x1="683.32" y1="287.6" x2="683.32" y2="289.4" stroke="#2b2b2b" stroke-width="0.7"/>
<text x="683.32" y="295.8" font-size="6.35" text-anchor="middle" font-weight="normal" font-style="normal" fill="#2e2e2e" stroke="#2e2e2e" stroke-width="0.22">4</text>
<line x1="541.8" y1="283.25" x2="543.6" y2="283.25" stroke="#2b2b2b" stroke-width="0.7"/>
<text x="540.2" y="285.85" font-size="6.35" text-anchor="end" font-weight="normal" font-style="normal" fill="#2e2e2e" letter-spacing="-0.22" stroke="#2e2e2e" stroke-width="0.22">0.0</text>
<line x1="541.8" y1="254.56" x2="543.6" y2="254.56" stroke="#2b2b2b" stroke-width="0.7"/>
<text x="540.2" y="257.16" font-size="6.35" text-anchor="end" font-weight="normal" font-style="normal" fill="#2e2e2e" letter-spacing="-0.22" stroke="#2e2e2e" stroke-width="0.22">2.5</text>
<line x1="541.8" y1="225.88" x2="543.6" y2="225.88" stroke="#2b2b2b" stroke-width="0.7"/>
<text x="540.2" y="228.47" font-size="6.35" text-anchor="end" font-weight="normal" font-style="normal" fill="#2e2e2e" letter-spacing="-0.22" stroke="#2e2e2e" stroke-width="0.22">5.0</text>
<line x1="541.8" y1="197.19" x2="543.6" y2="197.19" stroke="#2b2b2b" stroke-width="0.7"/>
<text x="540.2" y="199.79" font-size="6.35" text-anchor="end" font-weight="normal" font-style="normal" fill="#2e2e2e" letter-spacing="-0.22" stroke="#2e2e2e" stroke-width="0.22">7.5</text>
<line x1="541.8" y1="168.5" x2="543.6" y2="168.5" stroke="#2b2b2b" stroke-width="0.7"/>
<text x="540.2" y="171.1" font-size="6.35" text-anchor="end" font-weight="normal" font-style="normal" fill="#2e2e2e" letter-spacing="-0.22" stroke="#2e2e2e" stroke-width="0.22">10.0</text>
<text x="517.6" y="163.7" font-size="8.3" text-anchor="start" font-weight="bold" font-style="normal" fill="#111111" stroke="#111111" stroke-width="0.22">H</text>
<text x="524" y="222.43" font-size="7.45" text-anchor="middle" font-weight="normal" font-style="normal" fill="#1a1a1a" transform="rotate(-90 524 222.43)" stroke="#1a1a1a" stroke-width="0.12">[Acetate] (mM)</text>
<text x="613.45" y="304.2" font-size="7.45" text-anchor="middle" font-weight="normal" font-style="normal" fill="#1a1a1a" stroke="#1a1a1a" stroke-width="0.12">Time (days)</text>
<path d="M604.73 277.63 V284.74 M603.03 277.63 H606.43 M603.03 284.74 H606.43" stroke="#5a5a5a" stroke-width="0.5" fill="none"/>
<path d="M604.73 253.19 V266.27 M603.03 253.19 H606.43 M603.03 266.27 H606.43" stroke="#5a5a5a" stroke-width="0.5" fill="none"/>
<path d="M604.73 249.28 V258.69 M603.03 249.28 H606.43 M603.03 258.69 H606.43" stroke="#5a5a5a" stroke-width="0.5" fill="none"/>
<path d="M604.73 244.58 V264.09 M603.03 244.58 H606.43 M603.03 264.09 H606.43" stroke="#5a5a5a" stroke-width="0.5" fill="none"/>
<path d="M641.75 275.56 V285.66 M640.05 275.56 H643.45 M640.05 285.66 H643.45" stroke="#5a5a5a" stroke-width="0.5" fill="none"/>
<path d="M641.75 202.47 V217.61 M640.05 202.47 H643.45 M640.05 217.61 H643.45" stroke="#5a5a5a" stroke-width="0.5" fill="none"/>
<path d="M641.75 204.42 V222.09 M640.05 204.42 H643.45 M640.05 222.09 H643.45" stroke="#5a5a5a" stroke-width="0.5" fill="none"/>
<path d="M641.75 185.25 V211.65 M640.05 185.25 H643.45 M640.05 211.65 H643.45" stroke="#5a5a5a" stroke-width="0.5" fill="none"/>
<path d="M673.89 272.92 V284.4 M672.19 272.92 H675.59 M672.19 284.4 H675.59" stroke="#5a5a5a" stroke-width="0.5" fill="none"/>
<path d="M673.89 182.73 V196.27 M672.19 182.73 H675.59 M672.19 196.27 H675.59" stroke="#5a5a5a" stroke-width="0.5" fill="none"/>
<path d="M673.89 186.29 V201.43 M672.19 186.29 H675.59 M672.19 201.43 H675.59" stroke="#5a5a5a" stroke-width="0.5" fill="none"/>
<path d="M673.89 173.55 V186.4 M672.19 173.55 H675.59 M672.19 186.4 H675.59" stroke="#5a5a5a" stroke-width="0.5" fill="none"/>
<circle cx="570.85" cy="283.25" r="1.2" fill="#000000"/>
<circle cx="604.73" cy="281.18" r="1.2" fill="#e8408f"/>
<circle cx="604.73" cy="259.73" r="1.2" fill="#5b9bff"/>
<circle cx="604.73" cy="253.99" r="1.2" fill="#1fbf4a"/>
<circle cx="604.73" cy="254.33" r="1.2" fill="#000000"/>
<circle cx="641.75" cy="280.61" r="1.2" fill="#e8408f"/>
<circle cx="641.75" cy="210.04" r="1.2" fill="#5b9bff"/>
<circle cx="641.75" cy="213.25" r="1.2" fill="#1fbf4a"/>
<circle cx="641.75" cy="198.45" r="1.2" fill="#000000"/>
<circle cx="673.89" cy="278.66" r="1.2" fill="#e8408f"/>
<circle cx="673.89" cy="189.5" r="1.2" fill="#5b9bff"/>
<circle cx="673.89" cy="193.86" r="1.2" fill="#1fbf4a"/>
<circle cx="673.89" cy="179.98" r="1.2" fill="#000000"/>
</svg>
</body></html>
